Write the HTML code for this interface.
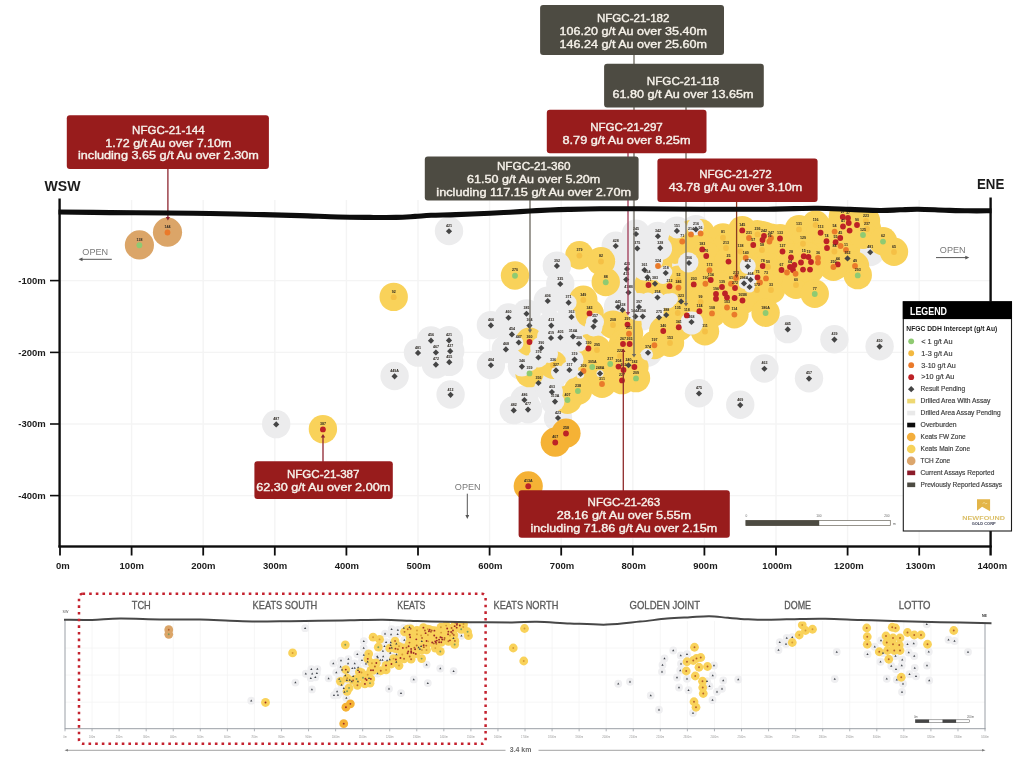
<!DOCTYPE html>
<html lang="en"><head><meta charset="utf-8"><title>Keats Zone Long Section</title>
<style>html,body{margin:0;padding:0;background:#fff}body{width:1024px;height:770px;overflow:hidden}svg{display:block}text{font-family:"Liberation Sans",sans-serif}.bx text{fill:#f6f2ea;font-size:11.7px;text-anchor:middle;stroke:#f6f2ea;stroke-width:.38px}.ax text{font-weight:bold;font-size:9.5px;fill:#1a1a1a}.hl text{font-size:3.6px;font-weight:bold;fill:#2a2620;text-anchor:middle}.lg text{font-size:6.3px;fill:#3a3a3a;stroke:#3a3a3a;stroke-width:.15px}.mn text{font-size:10.4px;fill:#5a5a5a;stroke:#5a5a5a;stroke-width:.3px;text-anchor:middle}.tk text{font-size:2.6px;fill:#999;stroke:none;text-anchor:middle}</style></head><body>
<svg width="1024" height="770" viewBox="0 0 1024 770">
<rect width="1024" height="770" fill="#fff"/>
<filter id="soft" x="0" y="0" width="1024" height="770" filterUnits="userSpaceOnUse"><feGaussianBlur stdDeviation="0.45"/></filter>
<g filter="url(#soft)">
<rect width="1024" height="770" fill="#fff"/>
<g stroke="#f4f4f4" stroke-width="1.4" fill="none">
<path d="M131.6 200V546"/>
<path d="M203.2 200V546"/>
<path d="M274.8 200V546"/>
<path d="M346.4 200V546"/>
<path d="M418 200V546"/>
<path d="M489.6 200V546"/>
<path d="M561.2 200V546"/>
<path d="M632.8 200V546"/>
<path d="M704.4 200V546"/>
<path d="M776 200V546"/>
<path d="M847.6 200V546"/>
<path d="M919.2 200V546"/>
<path d="M61 280.6H990"/>
<path d="M61 352.4H990"/>
<path d="M61 424H990"/>
<path d="M61 495.6H990"/>
</g>
<clipPath id="below"><path d="M58 212L110 212.6L168 213L256 214.5L338 217L396 217.4L431 215.3L490 213.2L530 211L568 209.4L640 208.8L768 209.2L818 208.3L880 210.5L918 209.3L968 210.8L992 210.8V548H58Z"/></clipPath>
<g clip-path="url(#below)">
<g fill="#ececed"><circle cx="449" cy="230.95" r="14.2"/><circle cx="276.2" cy="424.1" r="14.2"/><circle cx="394.6" cy="376" r="14.2"/><circle cx="699" cy="393.2" r="14.2"/><circle cx="740.25" cy="404.8" r="14.2"/><circle cx="764.4" cy="368.45" r="14.2"/><circle cx="809" cy="378.3" r="14.2"/><circle cx="787.75" cy="329.1" r="14.2"/><circle cx="834.4" cy="339.3" r="14.2"/><circle cx="879.6" cy="346.3" r="14.2"/><circle cx="431" cy="340.4" r="14.2"/><circle cx="418" cy="352.6" r="14.2"/><circle cx="435.9" cy="352.2" r="14.2"/><circle cx="435.9" cy="364.4" r="14.2"/><circle cx="449" cy="340.1" r="14.2"/><circle cx="450.2" cy="350.9" r="14.2"/><circle cx="449.3" cy="361.9" r="14.2"/><circle cx="450.6" cy="394.5" r="14.2"/><circle cx="490.9" cy="325.1" r="14.2"/><circle cx="490.9" cy="364.95" r="14.2"/><circle cx="508.5" cy="317.45" r="14.2"/><circle cx="511.9" cy="334.1" r="14.2"/><circle cx="505.9" cy="349.1" r="14.2"/><circle cx="518.75" cy="342.2" r="14.2"/><circle cx="526.5" cy="313.45" r="14.2"/><circle cx="529.4" cy="325.3" r="14.2"/><circle cx="541.25" cy="347.7" r="14.2"/><circle cx="538.4" cy="357.2" r="14.2"/><circle cx="521.9" cy="366.3" r="14.2"/><circle cx="538.5" cy="382.7" r="14.2"/><circle cx="547.75" cy="300.7" r="14.2"/><circle cx="551.25" cy="325.3" r="14.2"/><circle cx="551" cy="337.7" r="14.2"/><circle cx="560.4" cy="337.2" r="14.2"/><circle cx="556" cy="370.1" r="14.2"/><circle cx="551.9" cy="391.7" r="14.2"/><circle cx="524.4" cy="399.7" r="14.2"/><circle cx="528" cy="409.3" r="14.2"/><circle cx="513.75" cy="410.1" r="14.2"/><circle cx="555" cy="401.3" r="14.2"/><circle cx="558" cy="417.7" r="14.2"/><circle cx="556.9" cy="265.6" r="14.2"/><circle cx="560.25" cy="283.7" r="14.2"/><circle cx="568.6" cy="302.4" r="14.2"/><circle cx="615.75" cy="245.7" r="14.2"/><circle cx="627" cy="268.7" r="14.2"/><circle cx="626.25" cy="279.3" r="14.2"/><circle cx="628.5" cy="292.2" r="14.2"/><circle cx="636" cy="233.7" r="14.2"/><circle cx="637.25" cy="248.1" r="14.2"/><circle cx="657.9" cy="235.95" r="14.2"/><circle cx="660.25" cy="247.7" r="14.2"/><circle cx="676.9" cy="230.6" r="14.2"/><circle cx="644.4" cy="269.7" r="14.2"/><circle cx="647.5" cy="276.95" r="14.2"/><circle cx="665.75" cy="272.7" r="14.2"/><circle cx="655" cy="283.45" r="14.2"/><circle cx="657.5" cy="297.2" r="14.2"/><circle cx="681.1" cy="301.2" r="14.2"/><circle cx="571.5" cy="316.7" r="14.2"/><circle cx="595" cy="320.7" r="14.2"/><circle cx="593.5" cy="326.3" r="14.2"/><circle cx="573" cy="336.2" r="14.2"/><circle cx="579" cy="343.45" r="14.2"/><circle cx="574.6" cy="359.3" r="14.2"/><circle cx="569.4" cy="369.7" r="14.2"/><circle cx="580.6" cy="373.7" r="14.2"/><circle cx="600" cy="373.2" r="14.2"/><circle cx="618" cy="306.7" r="14.2"/><circle cx="622.5" cy="309.7" r="14.2"/><circle cx="639" cy="306.7" r="14.2"/><circle cx="635.4" cy="316.2" r="14.2"/><circle cx="642.75" cy="316.2" r="14.2"/><circle cx="628.5" cy="364.95" r="14.2"/><circle cx="659" cy="317.2" r="14.2"/><circle cx="666.25" cy="314.7" r="14.2"/><circle cx="648" cy="352.45" r="14.2"/><circle cx="695.9" cy="229.1" r="14.2"/><circle cx="689" cy="262.7" r="14.2"/><circle cx="747.75" cy="266.2" r="14.2"/><circle cx="750.6" cy="279.45" r="14.2"/><circle cx="744" cy="283.1" r="14.2"/><circle cx="749.6" cy="286.7" r="14.2"/><circle cx="847.5" cy="258.1" r="14.2"/><circle cx="870.25" cy="251.95" r="14.2"/><circle cx="691.5" cy="321.7" r="14.2"/></g>
<g fill="#dba568"><circle cx="139.4" cy="244.95" r="14.6"/><circle cx="167.5" cy="232.2" r="14.6"/></g>
<g fill="#f9d25a"><circle cx="393.7" cy="296.9" r="14.2"/><circle cx="515" cy="275.45" r="14.2"/><circle cx="322.9" cy="429.1" r="14.2"/><circle cx="529.5" cy="341.7" r="14.2"/><circle cx="529.5" cy="373.1" r="14.2"/><circle cx="553" cy="364.7" r="14.2"/><circle cx="579.4" cy="255.3" r="14.2"/><circle cx="601" cy="261.2" r="14.2"/><circle cx="605.75" cy="281.95" r="14.2"/><circle cx="583.3" cy="299.7" r="14.2"/><circle cx="682.25" cy="241.2" r="14.2"/><circle cx="658" cy="265.7" r="14.2"/><circle cx="648.5" cy="284.7" r="14.2"/><circle cx="669.5" cy="285.95" r="14.2"/><circle cx="678.5" cy="279.7" r="14.2"/><circle cx="678.5" cy="287.45" r="14.2"/><circle cx="589.5" cy="313.1" r="14.2"/><circle cx="588.4" cy="348.2" r="14.2"/><circle cx="597" cy="349.7" r="14.2"/><circle cx="583.5" cy="370.7" r="14.2"/><circle cx="592.25" cy="366.7" r="14.2"/><circle cx="610.25" cy="363.7" r="14.2"/><circle cx="602" cy="383.7" r="14.2"/><circle cx="577.9" cy="390.7" r="14.2"/><circle cx="613" cy="324.7" r="14.2"/><circle cx="627.5" cy="324.3" r="14.2"/><circle cx="629" cy="333.45" r="14.2"/><circle cx="623" cy="343.7" r="14.2"/><circle cx="629.6" cy="343.7" r="14.2"/><circle cx="620" cy="355.7" r="14.2"/><circle cx="618.5" cy="366.3" r="14.2"/><circle cx="623.5" cy="369.7" r="14.2"/><circle cx="634.4" cy="366.7" r="14.2"/><circle cx="636" cy="378.1" r="14.2"/><circle cx="622" cy="380.1" r="14.2"/><circle cx="677.75" cy="312.7" r="14.2"/><circle cx="686.8" cy="315.1" r="14.2"/><circle cx="678.75" cy="326.95" r="14.2"/><circle cx="663.25" cy="330.7" r="14.2"/><circle cx="654.4" cy="344.95" r="14.2"/><circle cx="670" cy="342.7" r="14.2"/><circle cx="567.5" cy="399.7" r="14.2"/><circle cx="700.6" cy="233.1" r="14.2"/><circle cx="691" cy="234.1" r="14.2"/><circle cx="723" cy="237.45" r="14.2"/><circle cx="726" cy="247.7" r="14.2"/><circle cx="702.25" cy="249.1" r="14.2"/><circle cx="706.25" cy="255.7" r="14.2"/><circle cx="709.5" cy="269.95" r="14.2"/><circle cx="728.5" cy="261.3" r="14.2"/><circle cx="710.75" cy="279.7" r="14.2"/><circle cx="705.4" cy="283.45" r="14.2"/><circle cx="693.75" cy="284.1" r="14.2"/><circle cx="742.25" cy="230.1" r="14.2"/><circle cx="749" cy="237.7" r="14.2"/><circle cx="753.25" cy="244.7" r="14.2"/><circle cx="757.5" cy="234.1" r="14.2"/><circle cx="764" cy="235.7" r="14.2"/><circle cx="762.5" cy="239.7" r="14.2"/><circle cx="771" cy="237.7" r="14.2"/><circle cx="769.4" cy="241.2" r="14.2"/><circle cx="762" cy="249.7" r="14.2"/><circle cx="780" cy="238.2" r="14.2"/><circle cx="799" cy="229.1" r="14.2"/><circle cx="803" cy="243.45" r="14.2"/><circle cx="782.5" cy="251.2" r="14.2"/><circle cx="740.6" cy="251.2" r="14.2"/><circle cx="745.75" cy="257.7" r="14.2"/><circle cx="762.75" cy="265.7" r="14.2"/><circle cx="768" cy="266.7" r="14.2"/><circle cx="757.5" cy="277.2" r="14.2"/><circle cx="766" cy="278.1" r="14.2"/><circle cx="760" cy="282.2" r="14.2"/><circle cx="757" cy="289.7" r="14.2"/><circle cx="771" cy="289.7" r="14.2"/><circle cx="736" cy="277.7" r="14.2"/><circle cx="735" cy="287.7" r="14.2"/><circle cx="731" cy="283.45" r="14.2"/><circle cx="722" cy="286.7" r="14.2"/><circle cx="716" cy="293.7" r="14.2"/><circle cx="716" cy="298.45" r="14.2"/><circle cx="725" cy="293.2" r="14.2"/><circle cx="727" cy="297.2" r="14.2"/><circle cx="734.6" cy="297.7" r="14.2"/><circle cx="742.5" cy="300.2" r="14.2"/><circle cx="700.6" cy="301.7" r="14.2"/><circle cx="781.5" cy="269.7" r="14.2"/><circle cx="791" cy="257.2" r="14.2"/><circle cx="794.4" cy="264.7" r="14.2"/><circle cx="793" cy="269.7" r="14.2"/><circle cx="801" cy="262.2" r="14.2"/><circle cx="803.75" cy="255.95" r="14.2"/><circle cx="803" cy="269.3" r="14.2"/><circle cx="790" cy="266.7" r="14.2"/><circle cx="787" cy="272.2" r="14.2"/><circle cx="795.6" cy="273.45" r="14.2"/><circle cx="796" cy="284.7" r="14.2"/><circle cx="815.6" cy="224.7" r="14.2"/><circle cx="820.6" cy="232.45" r="14.2"/><circle cx="826.5" cy="240.95" r="14.2"/><circle cx="827" cy="247.7" r="14.2"/><circle cx="834.6" cy="231.3" r="14.2"/><circle cx="835.6" cy="241.95" r="14.2"/><circle cx="840.25" cy="237.7" r="14.2"/><circle cx="840.6" cy="245.7" r="14.2"/><circle cx="834.4" cy="251.2" r="14.2"/><circle cx="846" cy="249.7" r="14.2"/><circle cx="842.75" cy="216.7" r="14.2"/><circle cx="848" cy="217.7" r="14.2"/><circle cx="848.75" cy="222.7" r="14.2"/><circle cx="843" cy="226.2" r="14.2"/><circle cx="849.6" cy="230.3" r="14.2"/><circle cx="857" cy="224.7" r="14.2"/><circle cx="866" cy="220.7" r="14.2"/><circle cx="867" cy="228.7" r="14.2"/><circle cx="863" cy="234.7" r="14.2"/><circle cx="883" cy="241.3" r="14.2"/><circle cx="894" cy="251.7" r="14.2"/><circle cx="855" cy="265.7" r="14.2"/><circle cx="857.75" cy="275.1" r="14.2"/><circle cx="837.75" cy="264.1" r="14.2"/><circle cx="833.4" cy="266.7" r="14.2"/><circle cx="818" cy="257.7" r="14.2"/><circle cx="818" cy="262.2" r="14.2"/><circle cx="808.5" cy="256.7" r="14.2"/><circle cx="811" cy="261.7" r="14.2"/><circle cx="810" cy="269.3" r="14.2"/><circle cx="814.75" cy="293.7" r="14.2"/><circle cx="699.4" cy="310.95" r="14.2"/><circle cx="712" cy="313.1" r="14.2"/><circle cx="727" cy="307.2" r="14.2"/><circle cx="734.4" cy="314.3" r="14.2"/><circle cx="765.6" cy="312.7" r="14.2"/><circle cx="705" cy="331.2" r="14.2"/></g>
<g fill="#f5b236"><circle cx="528.25" cy="485.95" r="14.6"/><circle cx="555.25" cy="442.2" r="14.6"/><circle cx="566" cy="433.2" r="14.6"/></g>
<g fill="#f9d25a"><circle cx="675" cy="257" r="7"/></g><g fill="#ececed"><circle cx="676.9" cy="228.5" r="10"/><circle cx="660.25" cy="248.5" r="11.8"/><circle cx="688.25" cy="262.4" r="10.2"/><circle cx="695.5" cy="228.8" r="6.5"/><circle cx="644.4" cy="270" r="10.5"/><circle cx="647.5" cy="275" r="6"/><circle cx="665.75" cy="272" r="6.5"/><circle cx="652" cy="260" r="11"/><circle cx="657.5" cy="299" r="7"/><circle cx="639" cy="307" r="14"/><circle cx="568.6" cy="302.7" r="8"/><circle cx="655" cy="273" r="7.5"/><circle cx="648" cy="300" r="7.5"/><circle cx="668" cy="301" r="7.5"/><circle cx="516" cy="343" r="7.5"/><circle cx="541.25" cy="348" r="11"/><circle cx="538.4" cy="357.5" r="10"/><circle cx="521.9" cy="366.6" r="10"/><circle cx="530" cy="363" r="8"/><circle cx="539.5" cy="386.5" r="5"/><circle cx="558" cy="372.5" r="7"/><circle cx="551" cy="338" r="14"/><circle cx="560.4" cy="337.5" r="14"/><circle cx="595" cy="322" r="9"/><circle cx="593.5" cy="327.5" r="9"/><circle cx="579" cy="343.75" r="8"/><circle cx="573" cy="336.5" r="10"/><circle cx="647" cy="354.5" r="6"/><circle cx="574.6" cy="359.6" r="9"/><circle cx="569.4" cy="370" r="9"/><circle cx="580.2" cy="374.5" r="4"/><circle cx="600" cy="373.5" r="3.5"/><circle cx="747.75" cy="266" r="8"/><circle cx="750.6" cy="279.5" r="6"/><circle cx="744.2" cy="283.4" r="5.5"/><circle cx="749.6" cy="287" r="5.5"/><circle cx="691.8" cy="323" r="11.5"/><circle cx="555" cy="401.6" r="9.5"/><circle cx="551.9" cy="392" r="11"/><circle cx="556.9" cy="265.9" r="14"/><circle cx="695.5" cy="226.5" r="8.5"/><circle cx="549" cy="354" r="9"/><circle cx="560" cy="380" r="6"/><circle cx="663" cy="277" r="7"/><circle cx="672" cy="299" r="6"/></g>
</g>
<g class="hl">
<circle cx="139.4" cy="245.25" r="2.9" fill="#8fca72"/>
<circle cx="167.5" cy="232.5" r="2.9" fill="#ea7a2c"/>
<circle cx="393.7" cy="297.2" r="2.9" fill="#f3b93f" fill-opacity=".75"/>
<path d="M449 228.15l3.1 3.1l-3.1 3.1l-3.1 -3.1z" fill="#454545"/>
<circle cx="515" cy="275.75" r="2.9" fill="#8fca72"/>
<path d="M276.2 421.3l3.1 3.1l-3.1 3.1l-3.1 -3.1z" fill="#454545"/>
<circle cx="322.9" cy="429.4" r="2.9" fill="#bd2128"/>
<path d="M394.6 373.2l3.1 3.1l-3.1 3.1l-3.1 -3.1z" fill="#454545"/>
<circle cx="528.25" cy="486.25" r="2.9" fill="#bd2128"/>
<circle cx="555.25" cy="442.5" r="2.9" fill="#bd2128"/>
<circle cx="566" cy="433.5" r="2.9" fill="#bd2128"/>
<path d="M699 390.4l3.1 3.1l-3.1 3.1l-3.1 -3.1z" fill="#454545"/>
<path d="M740.25 402l3.1 3.1l-3.1 3.1l-3.1 -3.1z" fill="#454545"/>
<path d="M764.4 365.65l3.1 3.1l-3.1 3.1l-3.1 -3.1z" fill="#454545"/>
<path d="M809 375.5l3.1 3.1l-3.1 3.1l-3.1 -3.1z" fill="#454545"/>
<path d="M787.75 326.3l3.1 3.1l-3.1 3.1l-3.1 -3.1z" fill="#454545"/>
<path d="M834.4 336.5l3.1 3.1l-3.1 3.1l-3.1 -3.1z" fill="#454545"/>
<path d="M879.6 343.5l3.1 3.1l-3.1 3.1l-3.1 -3.1z" fill="#454545"/>
<path d="M431 337.6l3.1 3.1l-3.1 3.1l-3.1 -3.1z" fill="#454545"/>
<path d="M418 349.8l3.1 3.1l-3.1 3.1l-3.1 -3.1z" fill="#454545"/>
<path d="M435.9 349.4l3.1 3.1l-3.1 3.1l-3.1 -3.1z" fill="#454545"/>
<path d="M435.9 361.6l3.1 3.1l-3.1 3.1l-3.1 -3.1z" fill="#454545"/>
<path d="M449 337.3l3.1 3.1l-3.1 3.1l-3.1 -3.1z" fill="#454545"/>
<path d="M450.2 348.1l3.1 3.1l-3.1 3.1l-3.1 -3.1z" fill="#454545"/>
<path d="M449.3 359.1l3.1 3.1l-3.1 3.1l-3.1 -3.1z" fill="#454545"/>
<path d="M450.6 391.7l3.1 3.1l-3.1 3.1l-3.1 -3.1z" fill="#454545"/>
<path d="M490.9 322.3l3.1 3.1l-3.1 3.1l-3.1 -3.1z" fill="#454545"/>
<path d="M490.9 362.15l3.1 3.1l-3.1 3.1l-3.1 -3.1z" fill="#454545"/>
<path d="M508.5 314.65l3.1 3.1l-3.1 3.1l-3.1 -3.1z" fill="#454545"/>
<path d="M511.9 331.3l3.1 3.1l-3.1 3.1l-3.1 -3.1z" fill="#454545"/>
<path d="M505.9 346.3l3.1 3.1l-3.1 3.1l-3.1 -3.1z" fill="#454545"/>
<path d="M518.75 339.4l3.1 3.1l-3.1 3.1l-3.1 -3.1z" fill="#454545"/>
<path d="M526.5 310.65l3.1 3.1l-3.1 3.1l-3.1 -3.1z" fill="#454545"/>
<path d="M529.4 322.5l3.1 3.1l-3.1 3.1l-3.1 -3.1z" fill="#454545"/>
<circle cx="529.5" cy="342" r="2.9" fill="#bd2128"/>
<path d="M541.25 344.9l3.1 3.1l-3.1 3.1l-3.1 -3.1z" fill="#454545"/>
<path d="M538.4 354.4l3.1 3.1l-3.1 3.1l-3.1 -3.1z" fill="#454545"/>
<path d="M521.9 363.5l3.1 3.1l-3.1 3.1l-3.1 -3.1z" fill="#454545"/>
<circle cx="529.5" cy="373.4" r="2.9" fill="#8fca72"/>
<path d="M538.5 379.9l3.1 3.1l-3.1 3.1l-3.1 -3.1z" fill="#454545"/>
<path d="M547.75 297.9l3.1 3.1l-3.1 3.1l-3.1 -3.1z" fill="#454545"/>
<path d="M551.25 322.5l3.1 3.1l-3.1 3.1l-3.1 -3.1z" fill="#454545"/>
<path d="M551 334.9l3.1 3.1l-3.1 3.1l-3.1 -3.1z" fill="#454545"/>
<path d="M560.4 334.4l3.1 3.1l-3.1 3.1l-3.1 -3.1z" fill="#454545"/>
<circle cx="553" cy="365" r="2.9" fill="#f3b93f" fill-opacity=".75"/>
<path d="M556 367.3l3.1 3.1l-3.1 3.1l-3.1 -3.1z" fill="#454545"/>
<path d="M551.9 388.9l3.1 3.1l-3.1 3.1l-3.1 -3.1z" fill="#454545"/>
<path d="M524.4 396.9l3.1 3.1l-3.1 3.1l-3.1 -3.1z" fill="#454545"/>
<path d="M528 406.5l3.1 3.1l-3.1 3.1l-3.1 -3.1z" fill="#454545"/>
<path d="M513.75 407.3l3.1 3.1l-3.1 3.1l-3.1 -3.1z" fill="#454545"/>
<path d="M555 398.5l3.1 3.1l-3.1 3.1l-3.1 -3.1z" fill="#454545"/>
<path d="M558 414.9l3.1 3.1l-3.1 3.1l-3.1 -3.1z" fill="#454545"/>
<path d="M556.9 262.8l3.1 3.1l-3.1 3.1l-3.1 -3.1z" fill="#454545"/>
<path d="M560.25 280.9l3.1 3.1l-3.1 3.1l-3.1 -3.1z" fill="#454545"/>
<circle cx="579.4" cy="255.6" r="2.9" fill="#f3b93f" fill-opacity=".75"/>
<circle cx="601" cy="261.5" r="2.9" fill="#f3b93f" fill-opacity=".75"/>
<circle cx="605.75" cy="282.25" r="2.9" fill="#8fca72"/>
<circle cx="583.3" cy="300" r="2.9" fill="#f3b93f" fill-opacity=".75"/>
<path d="M568.6 299.6l3.1 3.1l-3.1 3.1l-3.1 -3.1z" fill="#454545"/>
<path d="M615.75 242.9l3.1 3.1l-3.1 3.1l-3.1 -3.1z" fill="#454545"/>
<path d="M627 265.9l3.1 3.1l-3.1 3.1l-3.1 -3.1z" fill="#454545"/>
<path d="M626.25 276.5l3.1 3.1l-3.1 3.1l-3.1 -3.1z" fill="#454545"/>
<path d="M628.5 289.4l3.1 3.1l-3.1 3.1l-3.1 -3.1z" fill="#454545"/>
<path d="M636 230.9l3.1 3.1l-3.1 3.1l-3.1 -3.1z" fill="#454545"/>
<path d="M637.25 245.3l3.1 3.1l-3.1 3.1l-3.1 -3.1z" fill="#454545"/>
<path d="M657.9 233.15l3.1 3.1l-3.1 3.1l-3.1 -3.1z" fill="#454545"/>
<path d="M660.25 244.9l3.1 3.1l-3.1 3.1l-3.1 -3.1z" fill="#454545"/>
<path d="M676.9 227.8l3.1 3.1l-3.1 3.1l-3.1 -3.1z" fill="#454545"/>
<circle cx="682.25" cy="241.5" r="2.9" fill="#ea7a2c"/>
<circle cx="658" cy="266" r="2.9" fill="#ea7a2c"/>
<path d="M644.4 266.9l3.1 3.1l-3.1 3.1l-3.1 -3.1z" fill="#454545"/>
<path d="M647.5 274.15l3.1 3.1l-3.1 3.1l-3.1 -3.1z" fill="#454545"/>
<path d="M665.75 269.9l3.1 3.1l-3.1 3.1l-3.1 -3.1z" fill="#454545"/>
<circle cx="648.5" cy="285" r="2.9" fill="#bd2128"/>
<path d="M655 280.65l3.1 3.1l-3.1 3.1l-3.1 -3.1z" fill="#454545"/>
<circle cx="669.5" cy="286.25" r="2.9" fill="#bd2128"/>
<circle cx="678.5" cy="280" r="2.9" fill="#f3b93f" fill-opacity=".75"/>
<circle cx="678.5" cy="287.75" r="2.9" fill="#ea7a2c"/>
<path d="M657.5 294.4l3.1 3.1l-3.1 3.1l-3.1 -3.1z" fill="#454545"/>
<path d="M681.1 298.4l3.1 3.1l-3.1 3.1l-3.1 -3.1z" fill="#454545"/>
<path d="M571.5 313.9l3.1 3.1l-3.1 3.1l-3.1 -3.1z" fill="#454545"/>
<circle cx="589.5" cy="313.4" r="2.9" fill="#bd2128"/>
<path d="M595 317.9l3.1 3.1l-3.1 3.1l-3.1 -3.1z" fill="#454545"/>
<path d="M593.5 323.5l3.1 3.1l-3.1 3.1l-3.1 -3.1z" fill="#454545"/>
<path d="M573 333.4l3.1 3.1l-3.1 3.1l-3.1 -3.1z" fill="#454545"/>
<path d="M579 340.65l3.1 3.1l-3.1 3.1l-3.1 -3.1z" fill="#454545"/>
<circle cx="588.4" cy="348.5" r="2.9" fill="#bd2128"/>
<circle cx="597" cy="350" r="2.9" fill="#f3b93f" fill-opacity=".75"/>
<path d="M574.6 356.5l3.1 3.1l-3.1 3.1l-3.1 -3.1z" fill="#454545"/>
<path d="M569.4 366.9l3.1 3.1l-3.1 3.1l-3.1 -3.1z" fill="#454545"/>
<circle cx="583.5" cy="371" r="2.9" fill="#ea7a2c"/>
<path d="M580.6 370.9l3.1 3.1l-3.1 3.1l-3.1 -3.1z" fill="#454545"/>
<circle cx="592.25" cy="367" r="2.9" fill="#8fca72"/>
<circle cx="610.25" cy="364" r="2.9" fill="#8fca72"/>
<path d="M600 370.4l3.1 3.1l-3.1 3.1l-3.1 -3.1z" fill="#454545"/>
<circle cx="602" cy="384" r="2.9" fill="#ea7a2c"/>
<circle cx="577.9" cy="391" r="2.9" fill="#8fca72"/>
<path d="M618 303.9l3.1 3.1l-3.1 3.1l-3.1 -3.1z" fill="#454545"/>
<path d="M622.5 306.9l3.1 3.1l-3.1 3.1l-3.1 -3.1z" fill="#454545"/>
<path d="M639 303.9l3.1 3.1l-3.1 3.1l-3.1 -3.1z" fill="#454545"/>
<circle cx="613" cy="325" r="2.9" fill="#f3b93f" fill-opacity=".75"/>
<circle cx="627.5" cy="324.6" r="2.9" fill="#bd2128"/>
<circle cx="629" cy="333.75" r="2.9" fill="#ea7a2c"/>
<path d="M635.4 313.4l3.1 3.1l-3.1 3.1l-3.1 -3.1z" fill="#454545"/>
<path d="M642.75 313.4l3.1 3.1l-3.1 3.1l-3.1 -3.1z" fill="#454545"/>
<circle cx="623" cy="344" r="2.9" fill="#bd2128"/>
<circle cx="629.6" cy="344" r="2.9" fill="#bd2128"/>
<circle cx="620" cy="356" r="2.9" fill="#f3b93f" fill-opacity=".75"/>
<circle cx="618.5" cy="366.6" r="2.9" fill="#bd2128"/>
<circle cx="623.5" cy="370" r="2.9" fill="#bd2128"/>
<circle cx="634.4" cy="367" r="2.9" fill="#bd2128"/>
<path d="M628.5 362.15l3.1 3.1l-3.1 3.1l-3.1 -3.1z" fill="#454545"/>
<circle cx="636" cy="378.4" r="2.9" fill="#8fca72"/>
<circle cx="622" cy="380.4" r="2.9" fill="#bd2128"/>
<path d="M659 314.4l3.1 3.1l-3.1 3.1l-3.1 -3.1z" fill="#454545"/>
<path d="M666.25 311.9l3.1 3.1l-3.1 3.1l-3.1 -3.1z" fill="#454545"/>
<circle cx="677.75" cy="313" r="2.9" fill="#f3b93f" fill-opacity=".75"/>
<circle cx="686.8" cy="315.4" r="2.9" fill="#bd2128"/>
<circle cx="678.75" cy="327.25" r="2.9" fill="#bd2128"/>
<circle cx="663.25" cy="331" r="2.9" fill="#bd2128"/>
<circle cx="654.4" cy="345.25" r="2.9" fill="#ea7a2c"/>
<circle cx="670" cy="343" r="2.9" fill="#f3b93f" fill-opacity=".75"/>
<path d="M648 349.65l3.1 3.1l-3.1 3.1l-3.1 -3.1z" fill="#454545"/>
<circle cx="567.5" cy="400" r="2.9" fill="#8fca72"/>
<path d="M695.9 226.3l3.1 3.1l-3.1 3.1l-3.1 -3.1z" fill="#454545"/>
<circle cx="700.6" cy="233.4" r="2.9" fill="#ea7a2c"/>
<circle cx="691" cy="234.4" r="2.9" fill="#ea7a2c"/>
<circle cx="723" cy="237.75" r="2.9" fill="#f3b93f" fill-opacity=".75"/>
<circle cx="726" cy="248" r="2.9" fill="#f3b93f" fill-opacity=".75"/>
<circle cx="702.25" cy="249.4" r="2.9" fill="#bd2128"/>
<circle cx="706.25" cy="256" r="2.9" fill="#bd2128"/>
<path d="M689 259.9l3.1 3.1l-3.1 3.1l-3.1 -3.1z" fill="#454545"/>
<circle cx="709.5" cy="270.25" r="2.9" fill="#ea7a2c"/>
<circle cx="728.5" cy="261.6" r="2.9" fill="#bd2128"/>
<circle cx="710.75" cy="280" r="2.9" fill="#bd2128"/>
<circle cx="705.4" cy="283.75" r="2.9" fill="#ea7a2c"/>
<circle cx="693.75" cy="284.4" r="2.9" fill="#bd2128"/>
<circle cx="742.25" cy="230.4" r="2.9" fill="#bd2128"/>
<circle cx="749" cy="238" r="2.9" fill="#ea7a2c"/>
<circle cx="753.25" cy="245" r="2.9" fill="#bd2128"/>
<circle cx="757.5" cy="234.4" r="2.9" fill="#f3b93f" fill-opacity=".75"/>
<circle cx="764" cy="236" r="2.9" fill="#bd2128"/>
<circle cx="762.5" cy="240" r="2.9" fill="#bd2128"/>
<circle cx="771" cy="238" r="2.9" fill="#ea7a2c"/>
<circle cx="769.4" cy="241.5" r="2.9" fill="#ea7a2c"/>
<circle cx="762" cy="250" r="2.9" fill="#f3b93f" fill-opacity=".75"/>
<circle cx="780" cy="238.5" r="2.9" fill="#bd2128"/>
<circle cx="799" cy="229.4" r="2.9" fill="#f3b93f" fill-opacity=".75"/>
<circle cx="803" cy="243.75" r="2.9" fill="#f3b93f" fill-opacity=".75"/>
<circle cx="782.5" cy="251.5" r="2.9" fill="#bd2128"/>
<circle cx="740.6" cy="251.5" r="2.9" fill="#f3b93f" fill-opacity=".75"/>
<circle cx="745.75" cy="258" r="2.9" fill="#ea7a2c"/>
<path d="M747.75 263.4l3.1 3.1l-3.1 3.1l-3.1 -3.1z" fill="#454545"/>
<circle cx="762.75" cy="266" r="2.9" fill="#bd2128"/>
<circle cx="768" cy="267" r="2.9" fill="#f3b93f" fill-opacity=".75"/>
<path d="M750.6 276.65l3.1 3.1l-3.1 3.1l-3.1 -3.1z" fill="#454545"/>
<path d="M744 280.3l3.1 3.1l-3.1 3.1l-3.1 -3.1z" fill="#454545"/>
<path d="M749.6 283.9l3.1 3.1l-3.1 3.1l-3.1 -3.1z" fill="#454545"/>
<circle cx="757.5" cy="277.5" r="2.9" fill="#bd2128"/>
<circle cx="766" cy="278.4" r="2.9" fill="#ea7a2c"/>
<circle cx="760" cy="282.5" r="2.9" fill="#ea7a2c"/>
<circle cx="757" cy="290" r="2.9" fill="#f3b93f" fill-opacity=".75"/>
<circle cx="771" cy="290" r="2.9" fill="#f3b93f" fill-opacity=".75"/>
<circle cx="736" cy="278" r="2.9" fill="#ea7a2c"/>
<circle cx="735" cy="288" r="2.9" fill="#bd2128"/>
<circle cx="731" cy="283.75" r="2.9" fill="#ea7a2c"/>
<circle cx="722" cy="287" r="2.9" fill="#bd2128"/>
<circle cx="716" cy="294" r="2.9" fill="#bd2128"/>
<circle cx="716" cy="298.75" r="2.9" fill="#bd2128"/>
<circle cx="725" cy="293.5" r="2.9" fill="#bd2128"/>
<circle cx="727" cy="297.5" r="2.9" fill="#bd2128"/>
<circle cx="734.6" cy="298" r="2.9" fill="#bd2128"/>
<circle cx="742.5" cy="300.5" r="2.9" fill="#bd2128"/>
<circle cx="700.6" cy="302" r="2.9" fill="#f3b93f" fill-opacity=".75"/>
<circle cx="781.5" cy="270" r="2.9" fill="#bd2128"/>
<circle cx="791" cy="257.5" r="2.9" fill="#bd2128"/>
<circle cx="794.4" cy="265" r="2.9" fill="#bd2128"/>
<circle cx="793" cy="270" r="2.9" fill="#bd2128"/>
<circle cx="801" cy="262.5" r="2.9" fill="#bd2128"/>
<circle cx="803.75" cy="256.25" r="2.9" fill="#bd2128"/>
<circle cx="803" cy="269.6" r="2.9" fill="#bd2128"/>
<circle cx="790" cy="267" r="2.9" fill="#bd2128"/>
<circle cx="787" cy="272.5" r="2.9" fill="#ea7a2c"/>
<circle cx="795.6" cy="273.75" r="2.9" fill="#ea7a2c"/>
<circle cx="796" cy="285" r="2.9" fill="#f3b93f" fill-opacity=".75"/>
<circle cx="815.6" cy="225" r="2.9" fill="#f3b93f" fill-opacity=".75"/>
<circle cx="820.6" cy="232.75" r="2.9" fill="#bd2128"/>
<circle cx="826.5" cy="241.25" r="2.9" fill="#bd2128"/>
<circle cx="827" cy="248" r="2.9" fill="#bd2128"/>
<circle cx="834.6" cy="231.6" r="2.9" fill="#ea7a2c"/>
<circle cx="835.6" cy="242.25" r="2.9" fill="#bd2128"/>
<circle cx="840.25" cy="238" r="2.9" fill="#bd2128"/>
<circle cx="840.6" cy="246" r="2.9" fill="#ea7a2c"/>
<circle cx="834.4" cy="251.5" r="2.9" fill="#f3b93f" fill-opacity=".75"/>
<circle cx="846" cy="250" r="2.9" fill="#ea7a2c"/>
<path d="M847.5 255.3l3.1 3.1l-3.1 3.1l-3.1 -3.1z" fill="#454545"/>
<circle cx="842.75" cy="217" r="2.9" fill="#bd2128"/>
<circle cx="848" cy="218" r="2.9" fill="#bd2128"/>
<circle cx="848.75" cy="223" r="2.9" fill="#bd2128"/>
<circle cx="843" cy="226.5" r="2.9" fill="#bd2128"/>
<circle cx="849.6" cy="230.6" r="2.9" fill="#bd2128"/>
<circle cx="857" cy="225" r="2.9" fill="#bd2128"/>
<circle cx="866" cy="221" r="2.9" fill="#f3b93f" fill-opacity=".75"/>
<circle cx="867" cy="229" r="2.9" fill="#f3b93f" fill-opacity=".75"/>
<circle cx="863" cy="235" r="2.9" fill="#8fca72"/>
<circle cx="883" cy="241.6" r="2.9" fill="#8fca72"/>
<circle cx="894" cy="252" r="2.9" fill="#f3b93f" fill-opacity=".75"/>
<path d="M870.25 249.15l3.1 3.1l-3.1 3.1l-3.1 -3.1z" fill="#454545"/>
<circle cx="855" cy="266" r="2.9" fill="#ea7a2c"/>
<circle cx="857.75" cy="275.4" r="2.9" fill="#8fca72"/>
<circle cx="837.75" cy="264.4" r="2.9" fill="#bd2128"/>
<circle cx="833.4" cy="267" r="2.9" fill="#ea7a2c"/>
<circle cx="818" cy="258" r="2.9" fill="#ea7a2c"/>
<circle cx="818" cy="262.5" r="2.9" fill="#ea7a2c"/>
<circle cx="808.5" cy="257" r="2.9" fill="#bd2128"/>
<circle cx="811" cy="262" r="2.9" fill="#bd2128"/>
<circle cx="810" cy="269.6" r="2.9" fill="#bd2128"/>
<circle cx="814.75" cy="294" r="2.9" fill="#8fca72"/>
<circle cx="699.4" cy="311.25" r="2.9" fill="#bd2128"/>
<path d="M691.5 318.9l3.1 3.1l-3.1 3.1l-3.1 -3.1z" fill="#454545"/>
<circle cx="712" cy="313.4" r="2.9" fill="#ea7a2c"/>
<circle cx="727" cy="307.5" r="2.9" fill="#ea7a2c"/>
<circle cx="734.4" cy="314.6" r="2.9" fill="#ea7a2c"/>
<circle cx="765.6" cy="313" r="2.9" fill="#8fca72"/>
<circle cx="705" cy="331.5" r="2.9" fill="#f3b93f" fill-opacity=".75"/>
<text x="139.4" y="240.95">138</text>
<text x="167.5" y="228.2">144</text>
<text x="393.7" y="292.9">92</text>
<text x="449" y="226.95">421</text>
<text x="515" y="271.45">270</text>
<text x="276.2" y="420.1">487</text>
<text x="322.9" y="425.1">387</text>
<text x="394.6" y="372">449A</text>
<text x="528.25" y="481.95">413A</text>
<text x="555.25" y="438.2">407</text>
<text x="566" y="429.2">258</text>
<text x="699" y="389.2">475</text>
<text x="740.25" y="400.8">469</text>
<text x="764.4" y="364.45">463</text>
<text x="809" y="374.3">457</text>
<text x="787.75" y="325.1">445</text>
<text x="834.4" y="335.3">439</text>
<text x="879.6" y="342.3">450</text>
<text x="431" y="336.4">456</text>
<text x="418" y="348.6">481</text>
<text x="435.9" y="348.2">467</text>
<text x="435.9" y="360.4">472</text>
<text x="449" y="336.1">421</text>
<text x="450.2" y="346.9">427</text>
<text x="449.3" y="357.9">455</text>
<text x="450.6" y="390.5">412</text>
<text x="490.9" y="321.1">466</text>
<text x="490.9" y="360.95">484</text>
<text x="508.5" y="313.45">460</text>
<text x="511.9" y="330.1">454</text>
<text x="505.9" y="345.1">468</text>
<text x="518.75" y="338.2">447</text>
<text x="526.5" y="309.45">385</text>
<text x="529.4" y="321.3">364</text>
<text x="529.5" y="337.7">360</text>
<text x="541.25" y="343.7">390</text>
<text x="538.4" y="353.2">376</text>
<text x="521.9" y="362.3">346</text>
<text x="529.5" y="369.1">359</text>
<text x="538.5" y="378.7">356</text>
<text x="547.75" y="296.7">406</text>
<text x="551.25" y="321.3">413</text>
<text x="551" y="333.7">419</text>
<text x="560.4" y="333.2">405</text>
<text x="553" y="360.7">336</text>
<text x="556" y="366.1">327</text>
<text x="551.9" y="387.7">403</text>
<text x="524.4" y="395.7">486</text>
<text x="528" y="405.3">477</text>
<text x="513.75" y="406.1">482</text>
<text x="555" y="397.3">313A</text>
<text x="558" y="413.7">423</text>
<text x="556.9" y="261.6">392</text>
<text x="560.25" y="279.7">335</text>
<text x="579.4" y="251.3">379</text>
<text x="601" y="257.2">82</text>
<text x="605.75" y="277.95">88</text>
<text x="583.3" y="295.7">349</text>
<text x="568.6" y="298.4">371</text>
<text x="615.75" y="241.7">428</text>
<text x="627" y="264.7">425</text>
<text x="626.25" y="275.3">415</text>
<text x="628.5" y="288.2">418B</text>
<text x="636" y="229.7">245</text>
<text x="637.25" y="244.1">375</text>
<text x="657.9" y="231.95">342</text>
<text x="660.25" y="243.7">328</text>
<text x="676.9" y="226.6">151</text>
<text x="682.25" y="237.2">71</text>
<text x="658" y="261.7">324</text>
<text x="644.4" y="265.7">361</text>
<text x="647.5" y="272.95">364</text>
<text x="665.75" y="268.7">318</text>
<text x="648.5" y="280.7">211</text>
<text x="655" y="279.45">383</text>
<text x="669.5" y="281.95">212</text>
<text x="678.5" y="275.7">52</text>
<text x="678.5" y="283.45">246</text>
<text x="657.5" y="293.2">254</text>
<text x="681.1" y="297.2">323</text>
<text x="571.5" y="312.7">363</text>
<text x="589.5" y="309.1">343</text>
<text x="595" y="316.7">357</text>
<text x="573" y="332.2">314A</text>
<text x="579" y="339.45">300</text>
<text x="588.4" y="344.2">330</text>
<text x="597" y="345.7">295</text>
<text x="574.6" y="355.3">319</text>
<text x="569.4" y="365.7">317</text>
<text x="583.5" y="366.7">309</text>
<text x="592.25" y="362.7">305A</text>
<text x="610.25" y="359.7">217</text>
<text x="600" y="369.2">248A</text>
<text x="602" y="379.7">311</text>
<text x="577.9" y="386.7">238</text>
<text x="618" y="302.7">445</text>
<text x="622.5" y="305.7">438</text>
<text x="639" y="302.7">397</text>
<text x="613" y="320.7">208</text>
<text x="627.5" y="320.3">297</text>
<text x="629" y="329.45">251</text>
<text x="635.4" y="312.2">144A</text>
<text x="642.75" y="312.2">394</text>
<text x="623" y="339.7">267</text>
<text x="629.6" y="339.7">265</text>
<text x="620" y="351.7">222</text>
<text x="618.5" y="362.3">204</text>
<text x="623.5" y="365.7">263</text>
<text x="634.4" y="362.7">182</text>
<text x="628.5" y="360.95">240</text>
<text x="636" y="374.1">209</text>
<text x="622" y="376.1">227</text>
<text x="659" y="313.2">275</text>
<text x="666.25" y="310.7">388</text>
<text x="677.75" y="308.7">135</text>
<text x="686.8" y="311.1">118</text>
<text x="678.75" y="322.95">341</text>
<text x="663.25" y="326.7">340</text>
<text x="654.4" y="340.95">197</text>
<text x="670" y="338.7">153</text>
<text x="648" y="348.45">374</text>
<text x="567.5" y="395.7">407</text>
<text x="695.9" y="225.1">216</text>
<text x="700.6" y="229.1">56</text>
<text x="691" y="230.1">214</text>
<text x="723" y="233.45">81</text>
<text x="726" y="243.7">213</text>
<text x="702.25" y="245.1">183</text>
<text x="706.25" y="251.7">70</text>
<text x="689" y="258.7">306</text>
<text x="709.5" y="265.95">173</text>
<text x="728.5" y="257.3">25</text>
<text x="710.75" y="275.7">134</text>
<text x="705.4" y="279.45">190</text>
<text x="693.75" y="280.1">203</text>
<text x="742.25" y="226.1">145</text>
<text x="749" y="233.7">231</text>
<text x="753.25" y="240.7">57</text>
<text x="757.5" y="230.1">236</text>
<text x="764" y="231.7">242</text>
<text x="771" y="233.7">247</text>
<text x="769.4" y="237.2">76</text>
<text x="762" y="245.7">58</text>
<text x="780" y="234.2">133</text>
<text x="799" y="225.1">131</text>
<text x="803" y="239.45">129</text>
<text x="782.5" y="247.2">127</text>
<text x="740.6" y="247.2">138</text>
<text x="745.75" y="253.7">140</text>
<text x="747.75" y="262.2">474</text>
<text x="762.75" y="261.7">78</text>
<text x="768" y="262.7">50</text>
<text x="750.6" y="275.45">464</text>
<text x="744" y="279.1">296A</text>
<text x="757.5" y="273.2">75</text>
<text x="766" y="274.1">73</text>
<text x="757" y="285.7">172</text>
<text x="771" y="285.7">33</text>
<text x="736" y="273.7">273</text>
<text x="735" y="283.7">272</text>
<text x="731" y="279.45">61</text>
<text x="722" y="282.7">139</text>
<text x="716" y="289.7">196</text>
<text x="742.5" y="296.2">105B</text>
<text x="700.6" y="297.7">99</text>
<text x="781.5" y="265.7">67</text>
<text x="791" y="253.2">28</text>
<text x="803.75" y="251.95">15</text>
<text x="790" y="262.7">64</text>
<text x="796" y="280.7">60</text>
<text x="815.6" y="220.7">116</text>
<text x="820.6" y="228.45">113</text>
<text x="826.5" y="236.95">74</text>
<text x="834.6" y="227.3">54</text>
<text x="835.6" y="237.95">55</text>
<text x="840.25" y="233.7">45</text>
<text x="834.4" y="247.2">84</text>
<text x="846" y="245.7">11</text>
<text x="847.5" y="254.1">352</text>
<text x="842.75" y="212.7">27</text>
<text x="848" y="213.7">37</text>
<text x="843" y="222.2">41</text>
<text x="857" y="220.7">90</text>
<text x="866" y="216.7">223</text>
<text x="867" y="224.7">237</text>
<text x="863" y="230.7">125</text>
<text x="883" y="237.3">62</text>
<text x="894" y="247.7">65</text>
<text x="870.25" y="247.95">481</text>
<text x="855" y="261.7">49</text>
<text x="857.75" y="271.1">293</text>
<text x="837.75" y="260.1">44</text>
<text x="833.4" y="262.7">250</text>
<text x="818" y="253.7">36</text>
<text x="808.5" y="252.7">19</text>
<text x="814.75" y="289.7">77</text>
<text x="699.4" y="306.95">124</text>
<text x="691.5" y="317.7">368</text>
<text x="712" y="309.1">108</text>
<text x="727" y="303.2">103</text>
<text x="734.4" y="310.3">114</text>
<text x="765.6" y="308.7">180A</text>
<text x="705" y="327.2">111</text>
</g>
<path d="M167.9 168V218.5" stroke="#8e2430" stroke-width="1.3" fill="none"/>
<path d="M165.7 217.1L170.1 217.1L167.9 220.5Z" fill="#8e2430"/>
<path d="M530 200V331" stroke="#6b675e" stroke-width="1.3" fill="none"/>
<path d="M527.8 329.6L532.2 329.6L530 333Z" fill="#6b675e"/>
<path d="M628 153V313.5" stroke="#a03a55" stroke-width="1.3" fill="none"/>
<path d="M625.8 312.1L630.2 312.1L628 315.5Z" fill="#a03a55"/>
<path d="M634 54V355.5" stroke="#6b675e" stroke-width="1.3" fill="none"/>
<path d="M631.8 354.1L636.2 354.1L634 357.5Z" fill="#6b675e"/>
<path d="M686 107V304.5" stroke="#6b675e" stroke-width="1.3" fill="none"/>
<path d="M683.8 303.1L688.2 303.1L686 306.5Z" fill="#6b675e"/>
<path d="M736.6 201V276" stroke="#8a3a22" stroke-width="1.3" fill="none"/>
<path d="M734.4 274.6L738.8 274.6L736.6 278Z" fill="#8a3a22"/>
<path d="M623.3 491V350.5" stroke="#8f2a2a" stroke-width="1.3" fill="none"/>
<path d="M621.1 351.9L625.5 351.9L623.3 348.5Z" fill="#8f2a2a"/>
<path d="M323 462V436" stroke="#8e2430" stroke-width="1.3" fill="none"/>
<path d="M320.8 437.4L325.2 437.4L323 434Z" fill="#8e2430"/>
<path d="M58.5 212C67.08 212.1 91.75 212.43 110 212.6C128.25 212.77 151.33 212.85 168 213C184.67 213.15 195.33 213.25 210 213.5C224.67 213.75 241 214.15 256 214.5C271 214.85 286.33 215.18 300 215.6C313.67 216.02 326.33 216.7 338 217C349.67 217.3 360.33 217.33 370 217.4C379.67 217.47 388.5 217.57 396 217.4C403.5 217.23 409.17 216.75 415 216.4C420.83 216.05 424.17 215.6 431 215.3C437.83 215 446.17 214.95 456 214.6C465.83 214.25 481 213.6 490 213.2C499 212.8 503.33 212.57 510 212.2C516.67 211.83 523.33 211.37 530 211C536.67 210.63 543.67 210.27 550 210C556.33 209.73 559.67 209.6 568 209.4C576.33 209.2 588 208.9 600 208.8C612 208.7 623.33 208.73 640 208.8C656.67 208.87 683.33 209.12 700 209.2C716.67 209.28 728.67 209.3 740 209.3C751.33 209.3 758.83 209.32 768 209.2C777.17 209.08 786.67 208.75 795 208.6C803.33 208.45 808.83 208.17 818 208.3C827.17 208.43 839.67 209.03 850 209.4C860.33 209.77 871.67 210.43 880 210.5C888.33 210.57 893.67 210 900 209.8C906.33 209.6 910.5 209.23 918 209.3C925.5 209.37 936.67 209.95 945 210.2C953.33 210.45 960.25 210.7 968 210.8C975.75 210.9 987.58 210.8 991.5 210.8" fill="none" stroke="#0a0a0a" stroke-width="5.1" stroke-linejoin="round"/>
<g class="ax" stroke="none">
<g fill="#111">
<rect x="58.4" y="198.5" width="2.4" height="349"/>
<rect x="58.4" y="545.3" width="933.4" height="2.4"/>
<rect x="989.4" y="197.5" width="2.4" height="105"/>
<rect x="989.4" y="530" width="2.4" height="25.5"/>
<rect x="59.1" y="546" width="1.8" height="9.5"/>
<rect x="130.7" y="546" width="1.8" height="9.5"/>
<rect x="202.3" y="546" width="1.8" height="9.5"/>
<rect x="273.9" y="546" width="1.8" height="9.5"/>
<rect x="345.5" y="546" width="1.8" height="9.5"/>
<rect x="417.1" y="546" width="1.8" height="9.5"/>
<rect x="488.7" y="546" width="1.8" height="9.5"/>
<rect x="560.3" y="546" width="1.8" height="9.5"/>
<rect x="631.9" y="546" width="1.8" height="9.5"/>
<rect x="703.5" y="546" width="1.8" height="9.5"/>
<rect x="775.1" y="546" width="1.8" height="9.5"/>
<rect x="846.7" y="546" width="1.8" height="9.5"/>
<rect x="918.3" y="546" width="1.8" height="9.5"/>
<rect x="50" y="279.8" width="9" height="1.6"/>
<rect x="50" y="351.6" width="9" height="1.6"/>
<rect x="50" y="423.2" width="9" height="1.6"/>
<rect x="50" y="494.8" width="9" height="1.6"/>
</g>
<text x="62.8" y="569.3" text-anchor="middle">0m</text>
<text x="131.72" y="569.3" text-anchor="middle">100m</text>
<text x="203.43" y="569.3" text-anchor="middle">200m</text>
<text x="275.15" y="569.3" text-anchor="middle">300m</text>
<text x="346.86" y="569.3" text-anchor="middle">400m</text>
<text x="418.58" y="569.3" text-anchor="middle">500m</text>
<text x="490.29" y="569.3" text-anchor="middle">600m</text>
<text x="562.01" y="569.3" text-anchor="middle">700m</text>
<text x="633.72" y="569.3" text-anchor="middle">800m</text>
<text x="705.44" y="569.3" text-anchor="middle">900m</text>
<text x="777.15" y="569.3" text-anchor="middle">1000m</text>
<text x="848.87" y="569.3" text-anchor="middle">1200m</text>
<text x="920.58" y="569.3" text-anchor="middle">1300m</text>
<text x="992.3" y="569.3" text-anchor="middle">1400m</text>
<text x="45.8" y="283.9" text-anchor="end">-100m</text>
<text x="45.8" y="355.7" text-anchor="end">-200m</text>
<text x="45.8" y="427.3" text-anchor="end">-300m</text>
<text x="45.8" y="498.9" text-anchor="end">-400m</text>
<text x="44.5" y="191" style="font-size:14.3px" textLength="36" lengthAdjust="spacingAndGlyphs">WSW</text>
<text x="977" y="189" style="font-size:14.3px" textLength="27.3" lengthAdjust="spacingAndGlyphs">ENE</text>
</g>
<g fill="#7a7a7a" style="font-size:9.4px">
<text x="82.3" y="255" textLength="25.8" lengthAdjust="spacingAndGlyphs">OPEN</text>
<text x="939.8" y="253" textLength="25.8" lengthAdjust="spacingAndGlyphs">OPEN</text>
<text x="454.8" y="490" textLength="25.8" lengthAdjust="spacingAndGlyphs">OPEN</text>
</g>
<g stroke="#555" stroke-width="1" fill="#555">
<path d="M81 259.3H111.8" fill="none"/><path d="M78.5 259.3l4 -1.9v3.8z" stroke="none"/>
<path d="M936 257.6H966.5" fill="none"/><path d="M969.3 257.6l-4 -1.9v3.8z" stroke="none"/>
<path d="M467.3 493.7V516.5" fill="none"/><path d="M467.3 519l-1.9 -4h3.8z" stroke="none"/>
</g>
<g class="bx"><rect x="66.8" y="115.2" width="202.1" height="53.8" rx="3" fill="#981b1f" stroke="none"/>
<text x="168.4" y="133.5" textLength="72.6" lengthAdjust="spacingAndGlyphs">NFGC-21-144</text>
<text x="168.4" y="146.6" textLength="126.2" lengthAdjust="spacingAndGlyphs">1.72 g/t Au over 7.10m</text>
<text x="168.4" y="159.2" textLength="180.8" lengthAdjust="spacingAndGlyphs">including 3.65 g/t Au over 2.30m</text>
</g>
<g class="bx"><rect x="540.1" y="5" width="183.9" height="50" rx="3" fill="#4e4b42" stroke="none"/>
<text x="633.2" y="22.3" textLength="72.6" lengthAdjust="spacingAndGlyphs">NFGC-21-182</text>
<text x="633.2" y="35.1" textLength="147.3" lengthAdjust="spacingAndGlyphs">106.20 g/t Au over 35.40m</text>
<text x="633.2" y="47.6" textLength="147.3" lengthAdjust="spacingAndGlyphs">146.24 g/t Au over 25.60m</text>
</g>
<g class="bx"><rect x="604.1" y="63.7" width="159.7" height="43.7" rx="3" fill="#4e4b42" stroke="none"/>
<text x="683" y="84.6" textLength="72.6" lengthAdjust="spacingAndGlyphs">NFGC-21-118</text>
<text x="683" y="97.6" textLength="140.9" lengthAdjust="spacingAndGlyphs">61.80 g/t Au over 13.65m</text>
</g>
<g class="bx"><rect x="546.8" y="109.7" width="159.7" height="43.6" rx="3" fill="#981b1f" stroke="none"/>
<text x="626.5" y="131.2" textLength="72.6" lengthAdjust="spacingAndGlyphs">NFGC-21-297</text>
<text x="626.5" y="144.2" textLength="128" lengthAdjust="spacingAndGlyphs">8.79 g/t Au over 8.25m</text>
</g>
<g class="bx"><rect x="424.8" y="156.5" width="213.8" height="43.9" rx="3" fill="#4e4b42" stroke="none"/>
<text x="533.7" y="170.2" textLength="73.6" lengthAdjust="spacingAndGlyphs">NFGC-21-360</text>
<text x="533.7" y="183.1" textLength="133.2" lengthAdjust="spacingAndGlyphs">61.50 g/t Au over 5.20m</text>
<text x="533.7" y="195.7" textLength="194.7" lengthAdjust="spacingAndGlyphs">including 117.15 g/t Au over 2.70m</text>
</g>
<g class="bx"><rect x="657.4" y="158.4" width="160.2" height="43.7" rx="3" fill="#981b1f" stroke="none"/>
<text x="735.5" y="178.3" textLength="72.6" lengthAdjust="spacingAndGlyphs">NFGC-21-272</text>
<text x="735.5" y="191.4" textLength="133.7" lengthAdjust="spacingAndGlyphs">43.78 g/t Au over 3.10m</text>
</g>
<g class="bx"><rect x="254.4" y="461.3" width="138.4" height="37.7" rx="3" fill="#981b1f" stroke="none"/>
<text x="323.2" y="478.4" textLength="72.6" lengthAdjust="spacingAndGlyphs">NFGC-21-387</text>
<text x="323.2" y="491.3" textLength="134" lengthAdjust="spacingAndGlyphs">62.30 g/t Au over 2.00m</text>
</g>
<g class="bx"><rect x="518.6" y="490.2" width="211.2" height="47.5" rx="3" fill="#981b1f" stroke="none"/>
<text x="623.9" y="506.1" textLength="72.6" lengthAdjust="spacingAndGlyphs">NFGC-21-263</text>
<text x="623.9" y="518.7" textLength="134.3" lengthAdjust="spacingAndGlyphs">28.16 g/t Au over 5.55m</text>
<text x="623.9" y="531.5" textLength="186.9" lengthAdjust="spacingAndGlyphs">including 71.86 g/t Au over 2.15m</text>
</g>
<g>
<rect x="746" y="520.6" width="144.3" height="4.8" fill="#fff" stroke="#6a665c" stroke-width=".7"/>
<rect x="745.6" y="520.2" width="73.6" height="5.6" fill="#4e4b42"/>
<g class="tk" style="font-size:3px"><text x="746.5" y="517.3" style="font-size:3.2px;fill:#666">0</text><text x="819" y="517.3" style="font-size:3.2px;fill:#666">100</text><text x="887" y="517.3" style="font-size:3.2px;fill:#666">200</text><text x="894.3" y="524.6" style="font-size:3.4px;fill:#555">m</text></g>
</g>
<g class="lg">
<rect x="903.3" y="301.8" width="108.2" height="229.2" fill="#fff" stroke="#1c1c1c" stroke-width="1.1"/>
<rect x="902.8" y="301.3" width="109.2" height="17.8" fill="#050505"/>
<text x="910" y="315" style="font-size:10.4px;font-weight:bold;fill:#fff;stroke:none" textLength="37" lengthAdjust="spacingAndGlyphs">LEGEND</text>
<text x="906.3" y="331.4" style="font-weight:bold;fill:#222;stroke:none" textLength="91" lengthAdjust="spacingAndGlyphs">NFGC DDH Intercept (g/t Au)</text>
<circle cx="911.2" cy="341.3" r="2.9" fill="#8fca72"/>
<text x="921.3" y="343.6" textLength="31.2" lengthAdjust="spacingAndGlyphs">&lt; 1 g/t Au</text>
<circle cx="911.2" cy="353.26" r="2.9" fill="#f3b93f"/>
<text x="921.3" y="355.56" textLength="31.2" lengthAdjust="spacingAndGlyphs">1-3 g/t Au</text>
<circle cx="911.2" cy="365.22" r="2.9" fill="#ea7a2c"/>
<text x="921.3" y="367.52" textLength="34.5" lengthAdjust="spacingAndGlyphs">3-10 g/t Au</text>
<circle cx="911.2" cy="377.18" r="2.9" fill="#bd2128"/>
<text x="921.3" y="379.48" textLength="33" lengthAdjust="spacingAndGlyphs">&gt;10 g/t Au</text>
<path d="M911.2 385.94l3.2 3.2l-3.2 3.2l-3.2 -3.2z" fill="#454545"/>
<text x="920.6" y="391.44" textLength="44.5" lengthAdjust="spacingAndGlyphs">Result Pending</text>
<rect x="907.2" y="398.8" width="8" height="4.6" fill="#eed873"/>
<text x="920.6" y="403.4" textLength="69.8" lengthAdjust="spacingAndGlyphs">Drilled Area With Assay</text>
<rect x="907.2" y="410.76" width="8" height="4.6" fill="#e9e9e9"/>
<text x="920.6" y="415.36" textLength="80" lengthAdjust="spacingAndGlyphs">Drilled Area Assay Pending</text>
<rect x="907.2" y="422.72" width="8" height="4.6" fill="#080808"/>
<text x="920.6" y="427.32" textLength="36" lengthAdjust="spacingAndGlyphs">Overburden</text>
<circle cx="911.2" cy="436.98" r="4.3" fill="#f3ae3c"/>
<text x="920.6" y="439.28" textLength="45" lengthAdjust="spacingAndGlyphs">Keats FW Zone</text>
<circle cx="911.2" cy="448.94" r="4.3" fill="#f7d25a"/>
<text x="920.6" y="451.24" textLength="49.5" lengthAdjust="spacingAndGlyphs">Keats Main Zone</text>
<circle cx="911.2" cy="460.9" r="4.3" fill="#dca66c"/>
<text x="920.6" y="463.2" textLength="29.5" lengthAdjust="spacingAndGlyphs">TCH Zone</text>
<rect x="907.2" y="470.56" width="8" height="4.6" fill="#8c1c2c"/>
<text x="920.6" y="475.16" textLength="73.8" lengthAdjust="spacingAndGlyphs">Current Assays Reported</text>
<rect x="907.2" y="482.52" width="8" height="4.6" fill="#4e4b42"/>
<text x="920.6" y="487.12" textLength="81.5" lengthAdjust="spacingAndGlyphs">Previously Reported Assays</text>
<path d="M977 499.2H990.1V511.3L982.1 506.7L977 510.7Z" fill="#e3b548"/>
<path d="M982.6 503.4l1.6 -.9l1.2 1.2l1.8 -.3" fill="none" stroke="#f7e7b0" stroke-width=".7"/>
<text x="962.3" y="519.8" style="font-size:6.2px;font-weight:bold;fill:#dcc06a;stroke:none" textLength="42.7" lengthAdjust="spacingAndGlyphs">NEWFOUND</text>
<text x="971.7" y="524.6" style="font-size:3.8px;font-weight:bold;fill:#383c52;stroke:none" textLength="24" lengthAdjust="spacingAndGlyphs">GOLD CORP</text>
</g>
<g class="mn">
<g stroke="#f4f4f4" stroke-width=".8" fill="none">
<path d="M92.06 621V728"/>
<path d="M119.12 621V728"/>
<path d="M146.18 621V728"/>
<path d="M173.24 621V728"/>
<path d="M200.3 621V728"/>
<path d="M227.36 621V728"/>
<path d="M254.42 621V728"/>
<path d="M281.48 621V728"/>
<path d="M308.54 621V728"/>
<path d="M335.6 621V728"/>
<path d="M362.66 621V728"/>
<path d="M389.72 621V728"/>
<path d="M416.78 621V728"/>
<path d="M443.84 621V728"/>
<path d="M470.9 621V728"/>
<path d="M497.96 621V728"/>
<path d="M525.02 621V728"/>
<path d="M552.08 621V728"/>
<path d="M579.14 621V728"/>
<path d="M606.2 621V728"/>
<path d="M633.26 621V728"/>
<path d="M660.32 621V728"/>
<path d="M687.38 621V728"/>
<path d="M714.44 621V728"/>
<path d="M741.5 621V728"/>
<path d="M768.56 621V728"/>
<path d="M795.62 621V728"/>
<path d="M822.68 621V728"/>
<path d="M849.74 621V728"/>
<path d="M876.8 621V728"/>
<path d="M903.86 621V728"/>
<path d="M930.92 621V728"/>
<path d="M957.98 621V728"/>
<path d="M65 648H985"/>
<path d="M65 675H985"/>
<path d="M65 702.2H985"/>
</g>
<clipPath id="mb"><rect x="60" y="621.6" width="940" height="110"/></clipPath><g clip-path="url(#mb)"><g fill="#efeff1"><circle cx="305.13" cy="628.19" r="3.9"/><circle cx="251.24" cy="700.64" r="3.9"/><circle cx="295.39" cy="682.55" r="3.9"/><circle cx="389" cy="688.78" r="3.9"/><circle cx="401.01" cy="693.09" r="3.9"/><circle cx="413.74" cy="679.46" r="3.9"/><circle cx="427.8" cy="683.12" r="3.9"/><circle cx="426.61" cy="664.71" r="3.9"/><circle cx="440.3" cy="668.5" r="3.9"/><circle cx="453.6" cy="671.09" r="3.9"/><circle cx="311.37" cy="669.19" r="3.9"/><circle cx="305.8" cy="673.77" r="3.9"/><circle cx="312.21" cy="673.61" r="3.9"/><circle cx="310.81" cy="678.18" r="3.9"/><circle cx="317.37" cy="669.07" r="3.9"/><circle cx="316.89" cy="673.11" r="3.9"/><circle cx="315.33" cy="677.23" r="3.9"/><circle cx="311.93" cy="689.44" r="3.9"/><circle cx="333.3" cy="663.42" r="3.9"/><circle cx="328.62" cy="678.34" r="3.9"/><circle cx="341.01" cy="660.54" r="3.9"/><circle cx="340.63" cy="666.77" r="3.9"/><circle cx="336.29" cy="672.4" r="3.9"/><circle cx="342.04" cy="669.8" r="3.9"/><circle cx="348.37" cy="659.03" r="3.9"/><circle cx="348.06" cy="663.47" r="3.9"/><circle cx="347.89" cy="671.85" r="3.9"/><circle cx="345.31" cy="675.41" r="3.9"/><circle cx="339.18" cy="678.83" r="3.9"/><circle cx="341.54" cy="684.96" r="3.9"/><circle cx="357.32" cy="654.24" r="3.9"/><circle cx="354.7" cy="663.45" r="3.9"/><circle cx="352.29" cy="668.1" r="3.9"/><circle cx="354.73" cy="667.9" r="3.9"/><circle cx="346.86" cy="680.23" r="3.9"/><circle cx="343.78" cy="688.32" r="3.9"/><circle cx="337.12" cy="691.33" r="3.9"/><circle cx="337.93" cy="694.93" r="3.9"/><circle cx="333.98" cy="695.24" r="3.9"/><circle cx="344.45" cy="691.91" r="3.9"/><circle cx="346.35" cy="698.05" r="3.9"/><circle cx="363.79" cy="641.09" r="3.9"/><circle cx="363.69" cy="647.87" r="3.9"/><circle cx="363.81" cy="654.86" r="3.9"/><circle cx="385.03" cy="633.6" r="3.9"/><circle cx="386.09" cy="642.2" r="3.9"/><circle cx="384.4" cy="646.17" r="3.9"/><circle cx="382.9" cy="651" r="3.9"/><circle cx="391.62" cy="629.09" r="3.9"/><circle cx="391.07" cy="634.48" r="3.9"/><circle cx="397.89" cy="629.92" r="3.9"/><circle cx="397.63" cy="634.31" r="3.9"/><circle cx="403.8" cy="627.9" r="3.9"/><circle cx="390.76" cy="642.56" r="3.9"/><circle cx="390.62" cy="645.28" r="3.9"/><circle cx="396.34" cy="643.67" r="3.9"/><circle cx="391.75" cy="647.71" r="3.9"/><circle cx="390.22" cy="652.85" r="3.9"/><circle cx="396.47" cy="654.33" r="3.9"/><circle cx="361.98" cy="660.22" r="3.9"/><circle cx="367.66" cy="661.7" r="3.9"/><circle cx="365.96" cy="663.8" r="3.9"/><circle cx="358.12" cy="667.52" r="3.9"/><circle cx="357.97" cy="670.23" r="3.9"/><circle cx="353.16" cy="676.17" r="3.9"/><circle cx="349.75" cy="680.07" r="3.9"/><circle cx="351.76" cy="681.56" r="3.9"/><circle cx="357.94" cy="681.36" r="3.9"/><circle cx="377.19" cy="656.44" r="3.9"/><circle cx="377.87" cy="657.56" r="3.9"/><circle cx="383.19" cy="656.42" r="3.9"/><circle cx="380.3" cy="659.98" r="3.9"/><circle cx="382.47" cy="659.98" r="3.9"/><circle cx="369.03" cy="678.25" r="3.9"/><circle cx="387.12" cy="660.34" r="3.9"/><circle cx="389.74" cy="659.4" r="3.9"/><circle cx="377.48" cy="673.55" r="3.9"/><circle cx="409.52" cy="627.32" r="3.9"/><circle cx="404.29" cy="639.91" r="3.9"/><circle cx="421.78" cy="641.18" r="3.9"/><circle cx="421.14" cy="646.14" r="3.9"/><circle cx="418.57" cy="647.51" r="3.9"/><circle cx="419.91" cy="648.86" r="3.9"/><circle cx="453.44" cy="638.08" r="3.9"/><circle cx="461.43" cy="635.76" r="3.9"/><circle cx="396.27" cy="662" r="3.9"/><circle cx="618.25" cy="683.75" r="3.9"/><circle cx="630" cy="681.75" r="3.9"/><circle cx="650.75" cy="695.5" r="3.9"/><circle cx="659" cy="709.75" r="3.9"/><circle cx="662" cy="671.75" r="3.9"/><circle cx="662.5" cy="665" r="3.9"/><circle cx="664.5" cy="658.5" r="3.9"/><circle cx="673.25" cy="650.5" r="3.9"/><circle cx="680.75" cy="655.5" r="3.9"/><circle cx="687" cy="654.25" r="3.9"/><circle cx="681" cy="663.75" r="3.9"/><circle cx="680.25" cy="670.5" r="3.9"/><circle cx="677" cy="677.5" r="3.9"/><circle cx="679" cy="687.5" r="3.9"/><circle cx="687" cy="678.75" r="3.9"/><circle cx="688.5" cy="690.25" r="3.9"/><circle cx="693" cy="713" r="3.9"/><circle cx="707" cy="681.25" r="3.9"/><circle cx="709.5" cy="686.25" r="3.9"/><circle cx="714" cy="665.5" r="3.9"/><circle cx="712.75" cy="675.5" r="3.9"/><circle cx="717" cy="691.75" r="3.9"/><circle cx="722" cy="688.75" r="3.9"/><circle cx="723.25" cy="680.5" r="3.9"/><circle cx="738.25" cy="679.5" r="3.9"/><circle cx="712.5" cy="700" r="3.9"/><circle cx="779.75" cy="642.25" r="3.9"/><circle cx="786.75" cy="638" r="3.9"/><circle cx="792.25" cy="637.25" r="3.9"/><circle cx="786" cy="644" r="3.9"/><circle cx="778.5" cy="650" r="3.9"/><circle cx="836.75" cy="652" r="3.9"/><circle cx="834.75" cy="679" r="3.9"/><circle cx="926.75" cy="624.25" r="3.9"/><circle cx="948.5" cy="639.75" r="3.9"/><circle cx="954.5" cy="641" r="3.9"/><circle cx="968" cy="652" r="3.9"/><circle cx="881" cy="640.5" r="3.9"/><circle cx="874.75" cy="646.75" r="3.9"/><circle cx="867.5" cy="654.25" r="3.9"/><circle cx="880.5" cy="661.75" r="3.9"/><circle cx="883" cy="653" r="3.9"/><circle cx="907.5" cy="644.25" r="3.9"/><circle cx="913.75" cy="643.5" r="3.9"/><circle cx="908.75" cy="652.5" r="3.9"/><circle cx="914.25" cy="656" r="3.9"/><circle cx="928.75" cy="651.75" r="3.9"/><circle cx="895.5" cy="656" r="3.9"/><circle cx="902.25" cy="659.75" r="3.9"/><circle cx="901.75" cy="665.5" r="3.9"/><circle cx="891.25" cy="666" r="3.9"/><circle cx="896" cy="669.25" r="3.9"/><circle cx="914.75" cy="668" r="3.9"/><circle cx="927" cy="665.5" r="3.9"/><circle cx="909.5" cy="674.25" r="3.9"/><circle cx="916" cy="676.25" r="3.9"/><circle cx="929.25" cy="680.5" r="3.9"/><circle cx="886.75" cy="678.75" r="3.9"/><circle cx="896.75" cy="679.75" r="3.9"/><circle cx="903" cy="683.75" r="3.9"/><circle cx="902" cy="692" r="3.9"/></g><g fill="#f9d25a"><circle cx="292.6" cy="652.93" r="4.4"/><circle cx="345.29" cy="644.81" r="4.4"/><circle cx="265.52" cy="702.48" r="4.4"/><circle cx="345.77" cy="669.61" r="4.4"/><circle cx="340.41" cy="681.37" r="4.4"/><circle cx="347.21" cy="678.21" r="4.4"/><circle cx="373.08" cy="637.22" r="4.4"/><circle cx="379.57" cy="639.41" r="4.4"/><circle cx="378.3" cy="647.18" r="4.4"/><circle cx="368.7" cy="653.84" r="4.4"/><circle cx="404.54" cy="631.86" r="4.4"/><circle cx="395.06" cy="641.06" r="4.4"/><circle cx="389.73" cy="648.18" r="4.4"/><circle cx="395.49" cy="648.63" r="4.4"/><circle cx="399.01" cy="646.29" r="4.4"/><circle cx="397.87" cy="649.19" r="4.4"/><circle cx="367.78" cy="658.86" r="4.4"/><circle cx="359.39" cy="672" r="4.4"/><circle cx="361.55" cy="672.56" r="4.4"/><circle cx="353.12" cy="680.43" r="4.4"/><circle cx="356.51" cy="678.93" r="4.4"/><circle cx="362.97" cy="677.79" r="4.4"/><circle cx="357.43" cy="685.29" r="4.4"/><circle cx="349.05" cy="687.92" r="4.4"/><circle cx="371.93" cy="663.18" r="4.4"/><circle cx="376.32" cy="663.02" r="4.4"/><circle cx="374.9" cy="666.45" r="4.4"/><circle cx="370.95" cy="670.29" r="4.4"/><circle cx="373.06" cy="670.29" r="4.4"/><circle cx="367.67" cy="674.79" r="4.4"/><circle cx="365.38" cy="678.76" r="4.4"/><circle cx="366.63" cy="680.03" r="4.4"/><circle cx="370.81" cy="678.9" r="4.4"/><circle cx="370" cy="683.17" r="4.4"/><circle cx="364.9" cy="683.92" r="4.4"/><circle cx="393.55" cy="658.64" r="4.4"/><circle cx="395.9" cy="659.54" r="4.4"/><circle cx="391.45" cy="663.98" r="4.4"/><circle cx="386.01" cy="665.4" r="4.4"/><circle cx="380.78" cy="670.74" r="4.4"/><circle cx="386.1" cy="669.88" r="4.4"/><circle cx="347.07" cy="691.3" r="4.4"/><circle cx="410.61" cy="628.82" r="4.4"/><circle cx="407.69" cy="629.2" r="4.4"/><circle cx="416.97" cy="630.43" r="4.4"/><circle cx="416.95" cy="634.27" r="4.4"/><circle cx="409.68" cy="634.81" r="4.4"/><circle cx="410.18" cy="637.28" r="4.4"/><circle cx="409.49" cy="642.61" r="4.4"/><circle cx="416.31" cy="639.36" r="4.4"/><circle cx="408.61" cy="646.26" r="4.4"/><circle cx="406.46" cy="647.67" r="4.4"/><circle cx="402.86" cy="647.92" r="4.4"/><circle cx="423.42" cy="627.67" r="4.4"/><circle cx="424.9" cy="630.51" r="4.4"/><circle cx="425.62" cy="633.13" r="4.4"/><circle cx="427.8" cy="629.15" r="4.4"/><circle cx="429.68" cy="629.75" r="4.4"/><circle cx="428.91" cy="631.25" r="4.4"/><circle cx="431.69" cy="630.49" r="4.4"/><circle cx="430.93" cy="631.8" r="4.4"/><circle cx="427.91" cy="634.99" r="4.4"/><circle cx="434.43" cy="630.67" r="4.4"/><circle cx="440.86" cy="627.25" r="4.4"/><circle cx="441.1" cy="632.62" r="4.4"/><circle cx="434.21" cy="635.54" r="4.4"/><circle cx="421.1" cy="635.57" r="4.4"/><circle cx="422.05" cy="638" r="4.4"/><circle cx="426.61" cy="640.98" r="4.4"/><circle cx="428.18" cy="641.35" r="4.4"/><circle cx="423.64" cy="645.29" r="4.4"/><circle cx="426.29" cy="645.62" r="4.4"/><circle cx="423.84" cy="647.16" r="4.4"/><circle cx="421.92" cy="649.98" r="4.4"/><circle cx="426.51" cy="649.97" r="4.4"/><circle cx="416.71" cy="645.5" r="4.4"/><circle cx="415.09" cy="649.24" r="4.4"/><circle cx="414.39" cy="647.65" r="4.4"/><circle cx="411.13" cy="648.88" r="4.4"/><circle cx="408.26" cy="651.5" r="4.4"/><circle cx="407.57" cy="653.28" r="4.4"/><circle cx="411.16" cy="651.31" r="4.4"/><circle cx="411.22" cy="652.8" r="4.4"/><circle cx="413.58" cy="652.99" r="4.4"/><circle cx="415.78" cy="653.92" r="4.4"/><circle cx="402.29" cy="654.51" r="4.4"/><circle cx="432.22" cy="642.47" r="4.4"/><circle cx="436.39" cy="637.78" r="4.4"/><circle cx="436.82" cy="640.59" r="4.4"/><circle cx="435.92" cy="642.46" r="4.4"/><circle cx="439.1" cy="639.65" r="4.4"/><circle cx="440.43" cy="637.3" r="4.4"/><circle cx="439.11" cy="642.3" r="4.4"/><circle cx="435.24" cy="641.34" r="4.4"/><circle cx="433.75" cy="643.4" r="4.4"/><circle cx="436.38" cy="643.86" r="4.4"/><circle cx="435.33" cy="648.08" r="4.4"/><circle cx="446.17" cy="625.59" r="4.4"/><circle cx="447.17" cy="628.49" r="4.4"/><circle cx="448.39" cy="631.67" r="4.4"/><circle cx="448.05" cy="634.2" r="4.4"/><circle cx="451.58" cy="628.05" r="4.4"/><circle cx="451.13" cy="632.04" r="4.4"/><circle cx="452.94" cy="630.44" r="4.4"/><circle cx="452.42" cy="633.44" r="4.4"/><circle cx="450.04" cy="635.5" r="4.4"/><circle cx="453.79" cy="634.93" r="4.4"/><circle cx="455.31" cy="622.58" r="4.4"/><circle cx="457.05" cy="622.95" r="4.4"/><circle cx="456.92" cy="624.82" r="4.4"/><circle cx="454.67" cy="626.13" r="4.4"/><circle cx="456.67" cy="627.66" r="4.4"/><circle cx="459.81" cy="625.56" r="4.4"/><circle cx="463.49" cy="624.06" r="4.4"/><circle cx="463.26" cy="627.05" r="4.4"/><circle cx="461.2" cy="629.3" r="4.4"/><circle cx="467.61" cy="631.76" r="4.4"/><circle cx="468.45" cy="635.65" r="4.4"/><circle cx="454.89" cy="640.92" r="4.4"/><circle cx="454.65" cy="644.44" r="4.4"/><circle cx="449.94" cy="640.33" r="4.4"/><circle cx="448.42" cy="641.31" r="4.4"/><circle cx="444.6" cy="637.95" r="4.4"/><circle cx="444.25" cy="639.63" r="4.4"/><circle cx="441.82" cy="637.58" r="4.4"/><circle cx="442.19" cy="639.45" r="4.4"/><circle cx="441.26" cy="642.3" r="4.4"/><circle cx="440.29" cy="651.43" r="4.4"/><circle cx="400.46" cy="657.97" r="4.4"/><circle cx="404.08" cy="658.77" r="4.4"/><circle cx="409.76" cy="656.55" r="4.4"/><circle cx="411.11" cy="659.2" r="4.4"/><circle cx="421.6" cy="658.58" r="4.4"/><circle cx="399" cy="665.55" r="4.4"/><circle cx="524.5" cy="628.5" r="4.4"/><circle cx="513.25" cy="648" r="4.4"/><circle cx="523.75" cy="661" r="4.4"/><circle cx="694.5" cy="647.25" r="4.4"/><circle cx="700.75" cy="657.5" r="4.4"/><circle cx="696.5" cy="658.5" r="4.4"/><circle cx="693.25" cy="660.5" r="4.4"/><circle cx="687" cy="661.75" r="4.4"/><circle cx="686.25" cy="671" r="4.4"/><circle cx="699" cy="667.25" r="4.4"/><circle cx="707.5" cy="666.5" r="4.4"/><circle cx="695.25" cy="676" r="4.4"/><circle cx="702.5" cy="681.25" r="4.4"/><circle cx="702.75" cy="687.5" r="4.4"/><circle cx="703.25" cy="693.5" r="4.4"/><circle cx="694" cy="701.75" r="4.4"/><circle cx="696" cy="707.25" r="4.4"/><circle cx="802.25" cy="625" r="4.4"/><circle cx="805.5" cy="630.5" r="4.4"/><circle cx="812.5" cy="629.25" r="4.4"/><circle cx="799.25" cy="635" r="4.4"/><circle cx="792.25" cy="642.5" r="4.4"/><circle cx="866.75" cy="628" r="4.4"/><circle cx="867.25" cy="636.75" r="4.4"/><circle cx="867.25" cy="644.25" r="4.4"/><circle cx="892.25" cy="627.25" r="4.4"/><circle cx="895.5" cy="628" r="4.4"/><circle cx="886" cy="636" r="4.4"/><circle cx="893" cy="638" r="4.4"/><circle cx="900" cy="638" r="4.4"/><circle cx="907.5" cy="632.5" r="4.4"/><circle cx="914.25" cy="635" r="4.4"/><circle cx="921" cy="635" r="4.4"/><circle cx="886.75" cy="642.5" r="4.4"/><circle cx="893" cy="644.25" r="4.4"/><circle cx="899.25" cy="645" r="4.4"/><circle cx="879.25" cy="651.75" r="4.4"/><circle cx="887.5" cy="650.5" r="4.4"/><circle cx="894.25" cy="650.5" r="4.4"/><circle cx="900" cy="650.5" r="4.4"/><circle cx="888.75" cy="659.25" r="4.4"/><circle cx="901.25" cy="677.25" r="4.4"/><circle cx="927.5" cy="644.25" r="4.4"/><circle cx="953.75" cy="630.5" r="4.4"/></g><g fill="#f5b236"><circle cx="343.72" cy="723.63" r="4.4"/><circle cx="345.92" cy="707.23" r="4.4"/><circle cx="350.36" cy="703.85" r="4.4"/></g><g fill="#dba568"><circle cx="168.75" cy="629.7" r="4.4"/><circle cx="168.75" cy="634.3" r="4.4"/></g></g><circle cx="292.6" cy="652.93" r=".95" fill="#d69a35"/><path d="M305.13 626.99l1.1 2h-2.2z" fill="#3f434a"/><circle cx="345.29" cy="644.81" r=".95" fill="#7a9a5e"/><path d="M251.24 699.44l1.1 2h-2.2z" fill="#3f434a"/><circle cx="265.52" cy="702.48" r=".95" fill="#9e2a28"/><path d="M295.39 681.35l1.1 2h-2.2z" fill="#3f434a"/><circle cx="343.72" cy="723.63" r=".95" fill="#9e2a28"/><circle cx="345.92" cy="707.23" r=".95" fill="#9e2a28"/><circle cx="350.36" cy="703.85" r=".95" fill="#9e2a28"/><path d="M389 687.58l1.1 2h-2.2z" fill="#3f434a"/><path d="M401.01 691.89l1.1 2h-2.2z" fill="#3f434a"/><path d="M413.74 678.26l1.1 2h-2.2z" fill="#3f434a"/><path d="M427.8 681.92l1.1 2h-2.2z" fill="#3f434a"/><path d="M426.61 663.51l1.1 2h-2.2z" fill="#3f434a"/><path d="M440.3 667.3l1.1 2h-2.2z" fill="#3f434a"/><path d="M453.6 669.89l1.1 2h-2.2z" fill="#3f434a"/><path d="M311.37 667.99l1.1 2h-2.2z" fill="#3f434a"/><path d="M305.8 672.57l1.1 2h-2.2z" fill="#3f434a"/><path d="M312.21 672.41l1.1 2h-2.2z" fill="#3f434a"/><path d="M310.81 676.98l1.1 2h-2.2z" fill="#3f434a"/><path d="M317.37 667.87l1.1 2h-2.2z" fill="#3f434a"/><path d="M316.89 671.91l1.1 2h-2.2z" fill="#3f434a"/><path d="M315.33 676.03l1.1 2h-2.2z" fill="#3f434a"/><path d="M311.93 688.24l1.1 2h-2.2z" fill="#3f434a"/><path d="M333.3 662.22l1.1 2h-2.2z" fill="#3f434a"/><path d="M328.62 677.14l1.1 2h-2.2z" fill="#3f434a"/><path d="M341.01 659.34l1.1 2h-2.2z" fill="#3f434a"/><path d="M340.63 665.57l1.1 2h-2.2z" fill="#3f434a"/><path d="M336.29 671.2l1.1 2h-2.2z" fill="#3f434a"/><path d="M342.04 668.6l1.1 2h-2.2z" fill="#3f434a"/><path d="M348.37 657.83l1.1 2h-2.2z" fill="#3f434a"/><path d="M348.06 662.27l1.1 2h-2.2z" fill="#3f434a"/><circle cx="345.77" cy="669.61" r=".95" fill="#9e2a28"/><path d="M347.89 670.65l1.1 2h-2.2z" fill="#3f434a"/><path d="M345.31 674.21l1.1 2h-2.2z" fill="#3f434a"/><path d="M339.18 677.63l1.1 2h-2.2z" fill="#3f434a"/><circle cx="340.41" cy="681.37" r=".95" fill="#7a9a5e"/><path d="M341.54 683.76l1.1 2h-2.2z" fill="#3f434a"/><path d="M357.32 653.04l1.1 2h-2.2z" fill="#3f434a"/><path d="M354.7 662.25l1.1 2h-2.2z" fill="#3f434a"/><path d="M352.29 666.9l1.1 2h-2.2z" fill="#3f434a"/><path d="M354.73 666.7l1.1 2h-2.2z" fill="#3f434a"/><circle cx="347.21" cy="678.21" r=".95" fill="#d69a35"/><path d="M346.86 679.03l1.1 2h-2.2z" fill="#3f434a"/><path d="M343.78 687.12l1.1 2h-2.2z" fill="#3f434a"/><path d="M337.12 690.13l1.1 2h-2.2z" fill="#3f434a"/><path d="M337.93 693.73l1.1 2h-2.2z" fill="#3f434a"/><path d="M333.98 694.04l1.1 2h-2.2z" fill="#3f434a"/><path d="M344.45 690.71l1.1 2h-2.2z" fill="#3f434a"/><path d="M346.35 696.85l1.1 2h-2.2z" fill="#3f434a"/><path d="M363.79 639.89l1.1 2h-2.2z" fill="#3f434a"/><path d="M363.69 646.67l1.1 2h-2.2z" fill="#3f434a"/><circle cx="373.08" cy="637.22" r=".95" fill="#d69a35"/><circle cx="379.57" cy="639.41" r=".95" fill="#d69a35"/><circle cx="378.3" cy="647.18" r=".95" fill="#7a9a5e"/><circle cx="368.7" cy="653.84" r=".95" fill="#d69a35"/><path d="M363.81 653.66l1.1 2h-2.2z" fill="#3f434a"/><path d="M385.03 632.4l1.1 2h-2.2z" fill="#3f434a"/><path d="M386.09 641l1.1 2h-2.2z" fill="#3f434a"/><path d="M384.4 644.97l1.1 2h-2.2z" fill="#3f434a"/><path d="M382.9 649.8l1.1 2h-2.2z" fill="#3f434a"/><path d="M391.62 627.89l1.1 2h-2.2z" fill="#3f434a"/><path d="M391.07 633.28l1.1 2h-2.2z" fill="#3f434a"/><path d="M397.89 628.72l1.1 2h-2.2z" fill="#3f434a"/><path d="M397.63 633.11l1.1 2h-2.2z" fill="#3f434a"/><path d="M403.8 626.7l1.1 2h-2.2z" fill="#3f434a"/><circle cx="404.54" cy="631.86" r=".95" fill="#b5602a"/><circle cx="395.06" cy="641.06" r=".95" fill="#b5602a"/><path d="M390.76 641.36l1.1 2h-2.2z" fill="#3f434a"/><path d="M390.62 644.08l1.1 2h-2.2z" fill="#3f434a"/><path d="M396.34 642.47l1.1 2h-2.2z" fill="#3f434a"/><circle cx="389.73" cy="648.18" r=".95" fill="#9e2a28"/><path d="M391.75 646.51l1.1 2h-2.2z" fill="#3f434a"/><circle cx="395.49" cy="648.63" r=".95" fill="#9e2a28"/><circle cx="399.01" cy="646.29" r=".95" fill="#d69a35"/><circle cx="397.87" cy="649.19" r=".95" fill="#b5602a"/><path d="M390.22 651.65l1.1 2h-2.2z" fill="#3f434a"/><path d="M396.47 653.13l1.1 2h-2.2z" fill="#3f434a"/><path d="M361.98 659.02l1.1 2h-2.2z" fill="#3f434a"/><circle cx="367.78" cy="658.86" r=".95" fill="#9e2a28"/><path d="M367.66 660.5l1.1 2h-2.2z" fill="#3f434a"/><path d="M365.96 662.6l1.1 2h-2.2z" fill="#3f434a"/><path d="M358.12 666.32l1.1 2h-2.2z" fill="#3f434a"/><path d="M357.97 669.03l1.1 2h-2.2z" fill="#3f434a"/><circle cx="359.39" cy="672" r=".95" fill="#9e2a28"/><circle cx="361.55" cy="672.56" r=".95" fill="#d69a35"/><path d="M353.16 674.97l1.1 2h-2.2z" fill="#3f434a"/><path d="M349.75 678.87l1.1 2h-2.2z" fill="#3f434a"/><circle cx="353.12" cy="680.43" r=".95" fill="#b5602a"/><path d="M351.76 680.36l1.1 2h-2.2z" fill="#3f434a"/><circle cx="356.51" cy="678.93" r=".95" fill="#7a9a5e"/><circle cx="362.97" cy="677.79" r=".95" fill="#7a9a5e"/><path d="M357.94 680.16l1.1 2h-2.2z" fill="#3f434a"/><circle cx="357.43" cy="685.29" r=".95" fill="#b5602a"/><circle cx="349.05" cy="687.92" r=".95" fill="#7a9a5e"/><path d="M377.19 655.24l1.1 2h-2.2z" fill="#3f434a"/><path d="M377.87 656.36l1.1 2h-2.2z" fill="#3f434a"/><path d="M383.19 655.22l1.1 2h-2.2z" fill="#3f434a"/><circle cx="371.93" cy="663.18" r=".95" fill="#d69a35"/><circle cx="376.32" cy="663.02" r=".95" fill="#9e2a28"/><circle cx="374.9" cy="666.45" r=".95" fill="#b5602a"/><path d="M380.3 658.78l1.1 2h-2.2z" fill="#3f434a"/><path d="M382.47 658.78l1.1 2h-2.2z" fill="#3f434a"/><circle cx="370.95" cy="670.29" r=".95" fill="#9e2a28"/><circle cx="373.06" cy="670.29" r=".95" fill="#9e2a28"/><circle cx="367.67" cy="674.79" r=".95" fill="#d69a35"/><circle cx="365.38" cy="678.76" r=".95" fill="#9e2a28"/><circle cx="366.63" cy="680.03" r=".95" fill="#9e2a28"/><circle cx="370.81" cy="678.9" r=".95" fill="#9e2a28"/><path d="M369.03 677.05l1.1 2h-2.2z" fill="#3f434a"/><circle cx="370" cy="683.17" r=".95" fill="#7a9a5e"/><circle cx="364.9" cy="683.92" r=".95" fill="#9e2a28"/><path d="M387.12 659.14l1.1 2h-2.2z" fill="#3f434a"/><path d="M389.74 658.2l1.1 2h-2.2z" fill="#3f434a"/><circle cx="393.55" cy="658.64" r=".95" fill="#d69a35"/><circle cx="395.9" cy="659.54" r=".95" fill="#9e2a28"/><circle cx="391.45" cy="663.98" r=".95" fill="#9e2a28"/><circle cx="386.01" cy="665.4" r=".95" fill="#9e2a28"/><circle cx="380.78" cy="670.74" r=".95" fill="#b5602a"/><circle cx="386.1" cy="669.88" r=".95" fill="#d69a35"/><path d="M377.48 672.35l1.1 2h-2.2z" fill="#3f434a"/><circle cx="347.07" cy="691.3" r=".95" fill="#7a9a5e"/><path d="M409.52 626.12l1.1 2h-2.2z" fill="#3f434a"/><circle cx="410.61" cy="628.82" r=".95" fill="#b5602a"/><circle cx="407.69" cy="629.2" r=".95" fill="#b5602a"/><circle cx="416.97" cy="630.43" r=".95" fill="#d69a35"/><circle cx="416.95" cy="634.27" r=".95" fill="#d69a35"/><circle cx="409.68" cy="634.81" r=".95" fill="#9e2a28"/><circle cx="410.18" cy="637.28" r=".95" fill="#9e2a28"/><path d="M404.29 638.71l1.1 2h-2.2z" fill="#3f434a"/><circle cx="409.49" cy="642.61" r=".95" fill="#b5602a"/><circle cx="416.31" cy="639.36" r=".95" fill="#9e2a28"/><circle cx="408.61" cy="646.26" r=".95" fill="#9e2a28"/><circle cx="406.46" cy="647.67" r=".95" fill="#b5602a"/><circle cx="402.86" cy="647.92" r=".95" fill="#9e2a28"/><circle cx="423.42" cy="627.67" r=".95" fill="#9e2a28"/><circle cx="424.9" cy="630.51" r=".95" fill="#b5602a"/><circle cx="425.62" cy="633.13" r=".95" fill="#9e2a28"/><circle cx="427.8" cy="629.15" r=".95" fill="#d69a35"/><circle cx="429.68" cy="629.75" r=".95" fill="#9e2a28"/><circle cx="428.91" cy="631.25" r=".95" fill="#9e2a28"/><circle cx="431.69" cy="630.49" r=".95" fill="#b5602a"/><circle cx="430.93" cy="631.8" r=".95" fill="#b5602a"/><circle cx="427.91" cy="634.99" r=".95" fill="#d69a35"/><circle cx="434.43" cy="630.67" r=".95" fill="#9e2a28"/><circle cx="440.86" cy="627.25" r=".95" fill="#d69a35"/><circle cx="441.1" cy="632.62" r=".95" fill="#d69a35"/><circle cx="434.21" cy="635.54" r=".95" fill="#9e2a28"/><circle cx="421.1" cy="635.57" r=".95" fill="#d69a35"/><circle cx="422.05" cy="638" r=".95" fill="#b5602a"/><path d="M421.78 639.98l1.1 2h-2.2z" fill="#3f434a"/><circle cx="426.61" cy="640.98" r=".95" fill="#9e2a28"/><circle cx="428.18" cy="641.35" r=".95" fill="#d69a35"/><path d="M421.14 644.94l1.1 2h-2.2z" fill="#3f434a"/><path d="M418.57 646.31l1.1 2h-2.2z" fill="#3f434a"/><path d="M419.91 647.66l1.1 2h-2.2z" fill="#3f434a"/><circle cx="423.64" cy="645.29" r=".95" fill="#9e2a28"/><circle cx="426.29" cy="645.62" r=".95" fill="#b5602a"/><circle cx="423.84" cy="647.16" r=".95" fill="#b5602a"/><circle cx="421.92" cy="649.98" r=".95" fill="#d69a35"/><circle cx="426.51" cy="649.97" r=".95" fill="#d69a35"/><circle cx="416.71" cy="645.5" r=".95" fill="#b5602a"/><circle cx="415.09" cy="649.24" r=".95" fill="#9e2a28"/><circle cx="414.39" cy="647.65" r=".95" fill="#b5602a"/><circle cx="411.13" cy="648.88" r=".95" fill="#9e2a28"/><circle cx="408.26" cy="651.5" r=".95" fill="#9e2a28"/><circle cx="407.57" cy="653.28" r=".95" fill="#9e2a28"/><circle cx="411.16" cy="651.31" r=".95" fill="#9e2a28"/><circle cx="411.22" cy="652.8" r=".95" fill="#9e2a28"/><circle cx="413.58" cy="652.99" r=".95" fill="#9e2a28"/><circle cx="415.78" cy="653.92" r=".95" fill="#9e2a28"/><circle cx="402.29" cy="654.51" r=".95" fill="#d69a35"/><circle cx="432.22" cy="642.47" r=".95" fill="#9e2a28"/><circle cx="436.39" cy="637.78" r=".95" fill="#9e2a28"/><circle cx="436.82" cy="640.59" r=".95" fill="#9e2a28"/><circle cx="435.92" cy="642.46" r=".95" fill="#9e2a28"/><circle cx="439.1" cy="639.65" r=".95" fill="#9e2a28"/><circle cx="440.43" cy="637.3" r=".95" fill="#9e2a28"/><circle cx="439.11" cy="642.3" r=".95" fill="#9e2a28"/><circle cx="435.24" cy="641.34" r=".95" fill="#9e2a28"/><circle cx="433.75" cy="643.4" r=".95" fill="#b5602a"/><circle cx="436.38" cy="643.86" r=".95" fill="#b5602a"/><circle cx="435.33" cy="648.08" r=".95" fill="#d69a35"/><circle cx="446.17" cy="625.59" r=".95" fill="#d69a35"/><circle cx="447.17" cy="628.49" r=".95" fill="#9e2a28"/><circle cx="448.39" cy="631.67" r=".95" fill="#9e2a28"/><circle cx="448.05" cy="634.2" r=".95" fill="#9e2a28"/><circle cx="451.58" cy="628.05" r=".95" fill="#b5602a"/><circle cx="451.13" cy="632.04" r=".95" fill="#9e2a28"/><circle cx="452.94" cy="630.44" r=".95" fill="#9e2a28"/><circle cx="452.42" cy="633.44" r=".95" fill="#b5602a"/><circle cx="450.04" cy="635.5" r=".95" fill="#d69a35"/><circle cx="453.79" cy="634.93" r=".95" fill="#b5602a"/><path d="M453.44 636.88l1.1 2h-2.2z" fill="#3f434a"/><circle cx="455.31" cy="622.58" r=".95" fill="#9e2a28"/><circle cx="457.05" cy="622.95" r=".95" fill="#9e2a28"/><circle cx="456.92" cy="624.82" r=".95" fill="#9e2a28"/><circle cx="454.67" cy="626.13" r=".95" fill="#9e2a28"/><circle cx="456.67" cy="627.66" r=".95" fill="#9e2a28"/><circle cx="459.81" cy="625.56" r=".95" fill="#9e2a28"/><circle cx="463.49" cy="624.06" r=".95" fill="#d69a35"/><circle cx="463.26" cy="627.05" r=".95" fill="#d69a35"/><circle cx="461.2" cy="629.3" r=".95" fill="#7a9a5e"/><circle cx="467.61" cy="631.76" r=".95" fill="#7a9a5e"/><circle cx="468.45" cy="635.65" r=".95" fill="#d69a35"/><path d="M461.43 634.56l1.1 2h-2.2z" fill="#3f434a"/><circle cx="454.89" cy="640.92" r=".95" fill="#b5602a"/><circle cx="454.65" cy="644.44" r=".95" fill="#7a9a5e"/><circle cx="449.94" cy="640.33" r=".95" fill="#9e2a28"/><circle cx="448.42" cy="641.31" r=".95" fill="#b5602a"/><circle cx="444.6" cy="637.95" r=".95" fill="#b5602a"/><circle cx="444.25" cy="639.63" r=".95" fill="#b5602a"/><circle cx="441.82" cy="637.58" r=".95" fill="#9e2a28"/><circle cx="442.19" cy="639.45" r=".95" fill="#9e2a28"/><circle cx="441.26" cy="642.3" r=".95" fill="#9e2a28"/><circle cx="440.29" cy="651.43" r=".95" fill="#7a9a5e"/><circle cx="400.46" cy="657.97" r=".95" fill="#9e2a28"/><path d="M396.27 660.8l1.1 2h-2.2z" fill="#3f434a"/><circle cx="404.08" cy="658.77" r=".95" fill="#b5602a"/><circle cx="409.76" cy="656.55" r=".95" fill="#b5602a"/><circle cx="411.11" cy="659.2" r=".95" fill="#b5602a"/><circle cx="421.6" cy="658.58" r=".95" fill="#7a9a5e"/><circle cx="399" cy="665.55" r=".95" fill="#d69a35"/><circle cx="168.75" cy="629.7" r=".95" fill="#b5602a"/><circle cx="168.75" cy="634.3" r=".95" fill="#7a9a5e"/><circle cx="524.5" cy="628.5" r=".95" fill="#d69a35"/><circle cx="513.25" cy="648" r=".95" fill="#d69a35"/><circle cx="523.75" cy="661" r=".95" fill="#d69a35"/><path d="M618.25 682.55l1.1 2h-2.2z" fill="#3f434a"/><path d="M630 680.55l1.1 2h-2.2z" fill="#3f434a"/><path d="M650.75 694.3l1.1 2h-2.2z" fill="#3f434a"/><path d="M659 708.55l1.1 2h-2.2z" fill="#3f434a"/><path d="M662 670.55l1.1 2h-2.2z" fill="#3f434a"/><path d="M662.5 663.8l1.1 2h-2.2z" fill="#3f434a"/><path d="M664.5 657.3l1.1 2h-2.2z" fill="#3f434a"/><path d="M673.25 649.3l1.1 2h-2.2z" fill="#3f434a"/><path d="M680.75 654.3l1.1 2h-2.2z" fill="#3f434a"/><path d="M687 653.05l1.1 2h-2.2z" fill="#3f434a"/><path d="M681 662.55l1.1 2h-2.2z" fill="#3f434a"/><path d="M680.25 669.3l1.1 2h-2.2z" fill="#3f434a"/><path d="M677 676.3l1.1 2h-2.2z" fill="#3f434a"/><path d="M679 686.3l1.1 2h-2.2z" fill="#3f434a"/><path d="M687 677.55l1.1 2h-2.2z" fill="#3f434a"/><path d="M688.5 689.05l1.1 2h-2.2z" fill="#3f434a"/><path d="M693 711.8l1.1 2h-2.2z" fill="#3f434a"/><path d="M707 680.05l1.1 2h-2.2z" fill="#3f434a"/><path d="M709.5 685.05l1.1 2h-2.2z" fill="#3f434a"/><path d="M714 664.3l1.1 2h-2.2z" fill="#3f434a"/><path d="M712.75 674.3l1.1 2h-2.2z" fill="#3f434a"/><path d="M717 690.55l1.1 2h-2.2z" fill="#3f434a"/><path d="M722 687.55l1.1 2h-2.2z" fill="#3f434a"/><path d="M723.25 679.3l1.1 2h-2.2z" fill="#3f434a"/><path d="M738.25 678.3l1.1 2h-2.2z" fill="#3f434a"/><path d="M712.5 698.8l1.1 2h-2.2z" fill="#3f434a"/><circle cx="694.5" cy="647.25" r=".95" fill="#b5602a"/><circle cx="700.75" cy="657.5" r=".95" fill="#b5602a"/><circle cx="696.5" cy="658.5" r=".95" fill="#b5602a"/><circle cx="693.25" cy="660.5" r=".95" fill="#b5602a"/><circle cx="687" cy="661.75" r=".95" fill="#b5602a"/><circle cx="686.25" cy="671" r=".95" fill="#b5602a"/><circle cx="699" cy="667.25" r=".95" fill="#b5602a"/><circle cx="707.5" cy="666.5" r=".95" fill="#b5602a"/><circle cx="695.25" cy="676" r=".95" fill="#b5602a"/><circle cx="702.5" cy="681.25" r=".95" fill="#b5602a"/><circle cx="702.75" cy="687.5" r=".95" fill="#b5602a"/><circle cx="703.25" cy="693.5" r=".95" fill="#b5602a"/><circle cx="694" cy="701.75" r=".95" fill="#b5602a"/><circle cx="696" cy="707.25" r=".95" fill="#b5602a"/><path d="M779.75 641.05l1.1 2h-2.2z" fill="#3f434a"/><path d="M786.75 636.8l1.1 2h-2.2z" fill="#3f434a"/><path d="M792.25 636.05l1.1 2h-2.2z" fill="#3f434a"/><path d="M786 642.8l1.1 2h-2.2z" fill="#3f434a"/><path d="M778.5 648.8l1.1 2h-2.2z" fill="#3f434a"/><path d="M836.75 650.8l1.1 2h-2.2z" fill="#3f434a"/><path d="M834.75 677.8l1.1 2h-2.2z" fill="#3f434a"/><circle cx="802.25" cy="625" r=".95" fill="#d69a35"/><circle cx="805.5" cy="630.5" r=".95" fill="#d69a35"/><circle cx="812.5" cy="629.25" r=".95" fill="#d69a35"/><circle cx="799.25" cy="635" r=".95" fill="#d69a35"/><circle cx="792.25" cy="642.5" r=".95" fill="#d69a35"/><path d="M926.75 623.05l1.1 2h-2.2z" fill="#3f434a"/><path d="M948.5 638.55l1.1 2h-2.2z" fill="#3f434a"/><path d="M954.5 639.8l1.1 2h-2.2z" fill="#3f434a"/><path d="M968 650.8l1.1 2h-2.2z" fill="#3f434a"/><path d="M881 639.3l1.1 2h-2.2z" fill="#3f434a"/><path d="M874.75 645.55l1.1 2h-2.2z" fill="#3f434a"/><path d="M867.5 653.05l1.1 2h-2.2z" fill="#3f434a"/><path d="M880.5 660.55l1.1 2h-2.2z" fill="#3f434a"/><path d="M883 651.8l1.1 2h-2.2z" fill="#3f434a"/><path d="M907.5 643.05l1.1 2h-2.2z" fill="#3f434a"/><path d="M913.75 642.3l1.1 2h-2.2z" fill="#3f434a"/><path d="M908.75 651.3l1.1 2h-2.2z" fill="#3f434a"/><path d="M914.25 654.8l1.1 2h-2.2z" fill="#3f434a"/><path d="M928.75 650.55l1.1 2h-2.2z" fill="#3f434a"/><path d="M895.5 654.8l1.1 2h-2.2z" fill="#3f434a"/><path d="M902.25 658.55l1.1 2h-2.2z" fill="#3f434a"/><path d="M901.75 664.3l1.1 2h-2.2z" fill="#3f434a"/><path d="M891.25 664.8l1.1 2h-2.2z" fill="#3f434a"/><path d="M896 668.05l1.1 2h-2.2z" fill="#3f434a"/><path d="M914.75 666.8l1.1 2h-2.2z" fill="#3f434a"/><path d="M927 664.3l1.1 2h-2.2z" fill="#3f434a"/><path d="M909.5 673.05l1.1 2h-2.2z" fill="#3f434a"/><path d="M916 675.05l1.1 2h-2.2z" fill="#3f434a"/><path d="M929.25 679.3l1.1 2h-2.2z" fill="#3f434a"/><path d="M886.75 677.55l1.1 2h-2.2z" fill="#3f434a"/><path d="M896.75 678.55l1.1 2h-2.2z" fill="#3f434a"/><path d="M903 682.55l1.1 2h-2.2z" fill="#3f434a"/><path d="M902 690.8l1.1 2h-2.2z" fill="#3f434a"/><circle cx="866.75" cy="628" r=".95" fill="#b5602a"/><circle cx="867.25" cy="636.75" r=".95" fill="#b5602a"/><circle cx="867.25" cy="644.25" r=".95" fill="#b5602a"/><circle cx="892.25" cy="627.25" r=".95" fill="#b5602a"/><circle cx="895.5" cy="628" r=".95" fill="#b5602a"/><circle cx="886" cy="636" r=".95" fill="#b5602a"/><circle cx="893" cy="638" r=".95" fill="#b5602a"/><circle cx="900" cy="638" r=".95" fill="#b5602a"/><circle cx="907.5" cy="632.5" r=".95" fill="#b5602a"/><circle cx="914.25" cy="635" r=".95" fill="#b5602a"/><circle cx="921" cy="635" r=".95" fill="#b5602a"/><circle cx="886.75" cy="642.5" r=".95" fill="#b5602a"/><circle cx="893" cy="644.25" r=".95" fill="#b5602a"/><circle cx="899.25" cy="645" r=".95" fill="#b5602a"/><circle cx="879.25" cy="651.75" r=".95" fill="#b5602a"/><circle cx="887.5" cy="650.5" r=".95" fill="#b5602a"/><circle cx="894.25" cy="650.5" r=".95" fill="#b5602a"/><circle cx="900" cy="650.5" r=".95" fill="#b5602a"/><circle cx="888.75" cy="659.25" r=".95" fill="#b5602a"/><circle cx="901.25" cy="677.25" r=".95" fill="#b5602a"/><circle cx="927.5" cy="644.25" r=".95" fill="#b5602a"/><circle cx="953.75" cy="630.5" r=".95" fill="#b5602a"/>
<g stroke="#9a9fa6" stroke-width="1" fill="none">
<path d="M65 620V729.2M65 728.7H985.5M985 623V729.2"/>
<path d="M65 728.7v2.6M92.06 728.7v2.6M119.12 728.7v2.6M146.18 728.7v2.6M173.24 728.7v2.6M200.3 728.7v2.6M227.36 728.7v2.6M254.42 728.7v2.6M281.48 728.7v2.6M308.54 728.7v2.6M335.6 728.7v2.6M362.66 728.7v2.6M389.72 728.7v2.6M416.78 728.7v2.6M443.84 728.7v2.6M470.9 728.7v2.6M497.96 728.7v2.6M525.02 728.7v2.6M552.08 728.7v2.6M579.14 728.7v2.6M606.2 728.7v2.6M633.26 728.7v2.6M660.32 728.7v2.6M687.38 728.7v2.6M714.44 728.7v2.6M741.5 728.7v2.6M768.56 728.7v2.6M795.62 728.7v2.6M822.68 728.7v2.6M849.74 728.7v2.6M876.8 728.7v2.6M903.86 728.7v2.6M930.92 728.7v2.6M957.98 728.7v2.6M985.04 728.7v2.6" stroke-width=".8"/>
</g>
<g class="tk">
<text x="65" y="737.8">0m</text>
<text x="92.06" y="737.8">100m</text>
<text x="119.12" y="737.8">200m</text>
<text x="146.18" y="737.8">300m</text>
<text x="173.24" y="737.8">400m</text>
<text x="200.3" y="737.8">500m</text>
<text x="227.36" y="737.8">600m</text>
<text x="254.42" y="737.8">700m</text>
<text x="281.48" y="737.8">800m</text>
<text x="308.54" y="737.8">900m</text>
<text x="335.6" y="737.8">1000m</text>
<text x="362.66" y="737.8">1100m</text>
<text x="389.72" y="737.8">1200m</text>
<text x="416.78" y="737.8">1300m</text>
<text x="443.84" y="737.8">1400m</text>
<text x="470.9" y="737.8">1500m</text>
<text x="497.96" y="737.8">1600m</text>
<text x="525.02" y="737.8">1700m</text>
<text x="552.08" y="737.8">1800m</text>
<text x="579.14" y="737.8">1900m</text>
<text x="606.2" y="737.8">2000m</text>
<text x="633.26" y="737.8">2100m</text>
<text x="660.32" y="737.8">2200m</text>
<text x="687.38" y="737.8">2300m</text>
<text x="714.44" y="737.8">2400m</text>
<text x="741.5" y="737.8">2500m</text>
<text x="768.56" y="737.8">2600m</text>
<text x="795.62" y="737.8">2700m</text>
<text x="822.68" y="737.8">2800m</text>
<text x="849.74" y="737.8">2900m</text>
<text x="876.8" y="737.8">3000m</text>
<text x="903.86" y="737.8">3100m</text>
<text x="930.92" y="737.8">3200m</text>
<text x="957.98" y="737.8">3300m</text>
<text x="985.04" y="737.8">3400m</text>
<text x="65.5" y="613.2" style="font-size:3.6px;fill:#555">SW</text>
<text x="984.5" y="617.2" style="font-size:3.6px;fill:#333;font-weight:bold">NE</text>
<text x="916" y="718.2" style="font-size:2.8px;fill:#666">0m</text>
<text x="970.5" y="718.2" style="font-size:2.8px;fill:#666">200m</text>
</g>
<path d="M64 619.8C68.67 619.82 82.67 620.1 92 619.9C101.33 619.7 108.67 618.68 120 618.6C131.33 618.52 146.67 619.23 160 619.4C173.33 619.57 188.33 619.37 200 619.6C211.67 619.83 220.67 620.47 230 620.8C239.33 621.13 246 621.53 256 621.6C266 621.67 279.67 621.33 290 621.2C300.33 621.07 308 620.95 318 620.8C328 620.65 339.17 620.47 350 620.3C360.83 620.13 373 619.72 383 619.8C393 619.88 402 620.5 410 620.8C418 621.1 421 621.37 431 621.6C441 621.83 456.5 622.07 470 622.2C483.5 622.33 500.83 622.47 512 622.4C523.17 622.33 527.33 621.63 537 621.8C546.67 621.97 558.33 622.93 570 623.4C581.67 623.87 595.33 624.9 607 624.6C618.67 624.3 630 622.6 640 621.6C650 620.6 658.67 619.33 667 618.6C675.33 617.87 682.92 617.6 690 617.2C697.08 616.8 703.17 616.1 709.5 616.2C715.83 616.3 721.75 617.3 728 617.8C734.25 618.3 740.33 618.87 747 619.2C753.67 619.53 759.17 619.83 768 619.8C776.83 619.77 790.42 619.17 800 619C809.58 618.83 815.5 618.63 825.5 618.8C835.5 618.97 848.75 619.63 860 620C871.25 620.37 879.67 620.63 893 621C906.33 621.37 923.58 621.83 940 622.2C956.42 622.57 982.92 623.03 991.5 623.2" fill="none" stroke="#474747" stroke-width="2" stroke-linejoin="round"/>
<rect x="79" y="593.8" width="406.6" height="150" rx="3.5" fill="none" stroke="#c4202e" stroke-width="2.5" stroke-dasharray="2.6 4.05"/>
<text x="141.3" y="608.6" textLength="19" lengthAdjust="spacingAndGlyphs">TCH</text>
<text x="284.9" y="608.6" textLength="64.8" lengthAdjust="spacingAndGlyphs">KEATS SOUTH</text>
<text x="411.4" y="608.6" textLength="28.2" lengthAdjust="spacingAndGlyphs">KEATS</text>
<text x="525.9" y="608.6" textLength="64.8" lengthAdjust="spacingAndGlyphs">KEATS NORTH</text>
<text x="664.75" y="608.6" textLength="70.5" lengthAdjust="spacingAndGlyphs">GOLDEN JOINT</text>
<text x="797.65" y="608.6" textLength="26.7" lengthAdjust="spacingAndGlyphs">DOME</text>
<text x="914.65" y="608.6" textLength="31.7" lengthAdjust="spacingAndGlyphs">LOTTO</text>
<rect x="915.5" y="719.8" width="54.2" height="2.8" fill="#fff" stroke="#555" stroke-width=".5"/>
<rect x="915.3" y="719.6" width="13.8" height="3.2" fill="#444"/><rect x="942.5" y="719.6" width="13.6" height="3.2" fill="#444"/>
<g stroke="#8a8a8a" stroke-width=".8" fill="#777"><path d="M67 750.3H505.5M538.5 750.3H983" fill="none"/><path d="M64.5 750.3l3.4 -1.3v2.6z" stroke="none"/><path d="M985.5 750.3l-3.4 -1.3v2.6z" stroke="none"/></g>
<text x="520.6" y="752.4" style="font-size:6.4px;font-weight:bold;fill:#6a6a6a;stroke:none" textLength="21.6" lengthAdjust="spacingAndGlyphs">3.4 km</text>
</g>
</g>
</svg></body></html>
